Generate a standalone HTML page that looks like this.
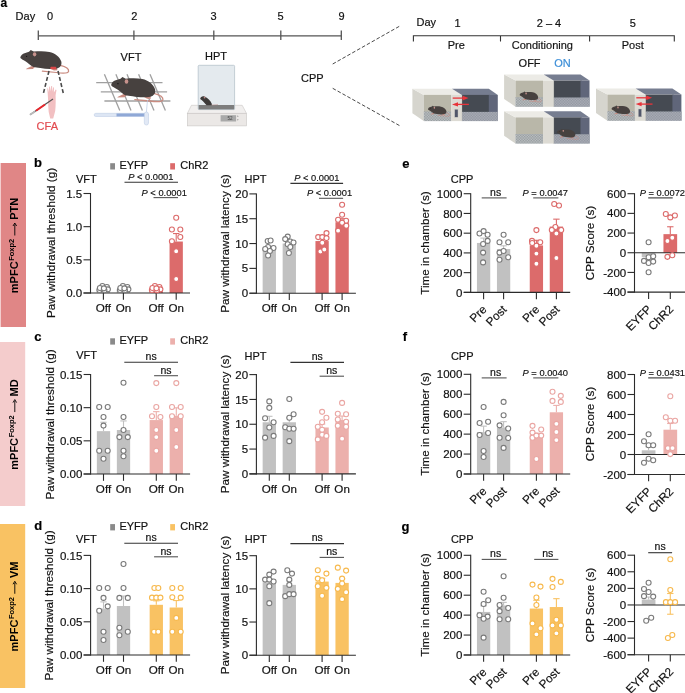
<!DOCTYPE html><html><head><meta charset="utf-8"><style>html,body{margin:0;padding:0;background:#fff;overflow:hidden;}svg{display:block;font-family:"Liberation Sans", sans-serif;will-change:transform;}</style></head><body>
<svg width="685" height="693" viewBox="0 0 685 693">
<rect width="685" height="693" fill="#fff"/>
<text x="0.6" y="6.6" font-size="12" text-anchor="start" font-weight="bold" fill="#000" stroke="#000" stroke-width="0.18">a</text>
<text x="15.6" y="19.9" font-size="11" text-anchor="start" font-weight="normal" fill="#111111" stroke="#111111" stroke-width="0.18">Day</text>
<line x1="38.3" y1="35.8" x2="341.3" y2="35.8" stroke="#555" stroke-width="1.3"/>
<line x1="38.3" y1="30.6" x2="38.3" y2="40" stroke="#555" stroke-width="1.3"/>
<line x1="133.9" y1="30.6" x2="133.9" y2="40" stroke="#555" stroke-width="1.3"/>
<line x1="213.8" y1="30.6" x2="213.8" y2="40" stroke="#555" stroke-width="1.3"/>
<line x1="280.8" y1="30.6" x2="280.8" y2="40" stroke="#555" stroke-width="1.3"/>
<line x1="341.3" y1="30.6" x2="341.3" y2="40" stroke="#555" stroke-width="1.3"/>
<text x="50" y="19.9" font-size="11" text-anchor="middle" font-weight="normal" fill="#111111" stroke="#111111" stroke-width="0.18">0</text>
<text x="134.2" y="19.9" font-size="11" text-anchor="middle" font-weight="normal" fill="#111111" stroke="#111111" stroke-width="0.18">2</text>
<text x="213.6" y="19.9" font-size="11" text-anchor="middle" font-weight="normal" fill="#111111" stroke="#111111" stroke-width="0.18">3</text>
<text x="280.5" y="19.9" font-size="11" text-anchor="middle" font-weight="normal" fill="#111111" stroke="#111111" stroke-width="0.18">5</text>
<text x="341.6" y="19.9" font-size="11" text-anchor="middle" font-weight="normal" fill="#111111" stroke="#111111" stroke-width="0.18">9</text>
<text x="131" y="61" font-size="11" text-anchor="middle" font-weight="normal" fill="#111111" stroke="#111111" stroke-width="0.18">VFT</text>
<text x="216" y="60.3" font-size="11" text-anchor="middle" font-weight="normal" fill="#111111" stroke="#111111" stroke-width="0.18">HPT</text>
<text x="312.3" y="82" font-size="11" text-anchor="middle" font-weight="normal" fill="#111111" stroke="#111111" stroke-width="0.18">CPP</text>
<line x1="332.7" y1="64" x2="399.7" y2="26.1" stroke="#4a4a4a" stroke-width="1" stroke-dasharray="3.6 2"/>
<line x1="332.7" y1="88.3" x2="399.7" y2="125.7" stroke="#4a4a4a" stroke-width="1" stroke-dasharray="3.6 2"/>
<g transform="translate(20.4 56.9) scale(1 1)">
<path d="M39.8 8.5 C45 9.8 48.6 12 48.2 14.4 C47.6 16.6 43 16.6 36 15.6 L22 14.3" fill="none" stroke="#c98b80" stroke-width="1.25" stroke-linecap="round"/>
<path d="M11.5 9 L6.2 11.6 L5.6 12.4 L12.5 12 L14.5 10 Z" fill="#c98b80"/>
<path d="M29 11 L33.5 13.6 L37 13.4 L36.5 10.6 Z" fill="#c98b80"/>
<path d="M0 0 C0.8 -2 2.2 -3 3.4 -3.5 L8.6 -5.2 L10.4 -6.8 L12.2 -6.0 L13.5 -5.3 C18 -5.8 24 -6.0 29 -5.0 C34.5 -3.8 39.5 0 40.9 4.6 C41.6 8 40 10.6 36.6 11.6 C31 12.6 25 12.2 20 11.2 C17 10.8 15 10.6 13 10.2 C10 8.4 7.6 6 5.4 4.6 C3.2 3.4 1 2.4 0 1.2 Z" fill="#47413f"/>
<ellipse cx="14.2" cy="-2.6" rx="1.7" ry="2.1" fill="#c7928c"/>
<circle cx="6.2" cy="-0.6" r="0.65" fill="#111"/>
</g>
<path d="M49 71 L43 95" stroke="#4a4a4a" stroke-width="1.6" stroke-dasharray="4 2.2"/>
<path d="M58 71 L63.5 94" stroke="#4a4a4a" stroke-width="1.6" stroke-dasharray="4 2.2"/>
<rect x="50.3" y="66.8" width="6" height="2.4" rx="1" fill="#d94848"/>
<path d="M50.2 118.6 L48.7 112 C48.3 108 48.1 104 48.1 100 L47.7 93.5 L47.2 88.5 L48 88.2 L48.7 92.2 L49.1 86.8 L50 86.6 L50.4 91.6 L51.2 86 L52.1 86 L52.3 91.6 L53.2 87.2 L54 87.4 L53.9 92.6 L55.7 89.6 L56.5 90.1 L55.6 95.2 C55.8 100 55.8 106 55.2 111 L53.2 118.6 Z" fill="#f2c0c2"/>
<line x1="30" y1="114.8" x2="53" y2="99" stroke="#555" stroke-width="1.2"/>
<line x1="36" y1="110.7" x2="45" y2="104.5" stroke="#e8262c" stroke-width="2"/>
<line x1="30" y1="114.8" x2="35" y2="111.4" stroke="#bbb" stroke-width="1.8"/>
<text x="47.3" y="129.9" font-size="11" text-anchor="middle" font-weight="normal" fill="#e24a4f" stroke="#e24a4f" stroke-width="0.18">CFA</text>
<line x1="96.2" y1="82.6" x2="162.5" y2="82.6" stroke="#a0a0a0" stroke-width="1.3"/>
<line x1="100.8" y1="91.8" x2="167.1" y2="91.8" stroke="#a0a0a0" stroke-width="1.3"/>
<line x1="104.4" y1="101" x2="170.4" y2="101" stroke="#a0a0a0" stroke-width="1.3"/>
<line x1="104.4" y1="74.2" x2="119.8" y2="110.6" stroke="#a0a0a0" stroke-width="1.3"/>
<line x1="115.9" y1="74.2" x2="131" y2="110.6" stroke="#a0a0a0" stroke-width="1.3"/>
<line x1="127" y1="74.2" x2="142.4" y2="110.6" stroke="#a0a0a0" stroke-width="1.3"/>
<line x1="138.6" y1="74.2" x2="154" y2="110.6" stroke="#a0a0a0" stroke-width="1.3"/>
<line x1="150" y1="74.2" x2="165.4" y2="110.6" stroke="#a0a0a0" stroke-width="1.3"/>
<g transform="translate(111.3 84.3) scale(1.07 1.07)">
<path d="M39.8 8.5 C45 9.8 48.6 12 48.2 14.4 C47.6 16.6 43 16.6 36 15.6 L22 14.3" fill="none" stroke="#c98b80" stroke-width="1.25" stroke-linecap="round"/>
<path d="M11.5 9 L6.2 11.6 L5.6 12.4 L12.5 12 L14.5 10 Z" fill="#c98b80"/>
<path d="M29 11 L33.5 13.6 L37 13.4 L36.5 10.6 Z" fill="#c98b80"/>
<path d="M0 0 C0.8 -2 2.2 -3 3.4 -3.5 L8.6 -5.2 L10.4 -6.8 L12.2 -6.0 L13.5 -5.3 C18 -5.8 24 -6.0 29 -5.0 C34.5 -3.8 39.5 0 40.9 4.6 C41.6 8 40 10.6 36.6 11.6 C31 12.6 25 12.2 20 11.2 C17 10.8 15 10.6 13 10.2 C10 8.4 7.6 6 5.4 4.6 C3.2 3.4 1 2.4 0 1.2 Z" fill="#47413f"/>
<ellipse cx="14.2" cy="-2.6" rx="1.7" ry="2.1" fill="#c7928c"/>
<circle cx="6.2" cy="-0.6" r="0.65" fill="#111"/>
</g>
<rect x="94.2" y="113.3" width="54" height="3.2" rx="1.6" fill="#dde6f4" stroke="#b9c8e3" stroke-width="0.5"/>
<rect x="116.5" y="113.5" width="28.5" height="2.9" fill="#8fa8d6"/>
<rect x="144.3" y="112" width="4.2" height="13" rx="2" fill="#e2e9f5" stroke="#b9c8e3" stroke-width="0.5"/>
<line x1="146.4" y1="112" x2="147.5" y2="100" stroke="#b9c8e3" stroke-width="0.7"/>
<polygon points="191.4,105.3 242.2,105.3 246.5,113.4 187.4,113.4" fill="#f1efee" stroke="#c9c6c4" stroke-width="0.6"/>
<rect x="187.4" y="113.4" width="59.1" height="12.5" fill="#ebe8e6" stroke="#c9c6c4" stroke-width="0.6"/>
<rect x="220.6" y="115.2" width="15.5" height="6.3" fill="#a9a9a9"/>
<text x="232.5" y="120.3" font-size="4.6" text-anchor="end" font-weight="normal" fill="#444">52</text>
<rect x="198.2" y="65.3" width="36.4" height="44.3" fill="#e4eaee" stroke="#b6c3cc" stroke-width="0.8" rx="1"/>
<rect x="198.6" y="105" width="35.6" height="4.4" fill="#7d7d7d"/>
<path d="M200.2 98.9 C200.6 96.9 202.4 95.6 204.5 96.5 C207.5 97.9 210.6 100.5 211.9 104 L211.7 105.2 L206.6 105.2 C204.6 103.4 203.1 101.2 201.6 100.1 Z" fill="#3d3a39"/>
<ellipse cx="204.6" cy="97.4" rx="0.9" ry="1" fill="#b98a86"/>
<path d="M211.5 105 L218 104.6" stroke="#b98a86" stroke-width="0.5"/>
<path d="M237 116.6 L238.6 116.6 L237.8 115.4 Z M237 119.4 L238.6 119.4 L237.8 120.6 Z" fill="#666"/>
<text x="416.5" y="26.3" font-size="11" text-anchor="start" font-weight="normal" fill="#111111" stroke="#111111" stroke-width="0.18">Day</text>
<text x="457.5" y="27" font-size="11" text-anchor="middle" font-weight="normal" fill="#111111" stroke="#111111" stroke-width="0.18">1</text>
<text x="549" y="27" font-size="11" text-anchor="middle" font-weight="normal" fill="#111111" stroke="#111111" stroke-width="0.18">2 – 4</text>
<text x="632.7" y="27" font-size="11" text-anchor="middle" font-weight="normal" fill="#111111" stroke="#111111" stroke-width="0.18">5</text>
<path d="M413.4 41.5 L413.4 35.7 L674.3 35.7 L674.3 41.5 M500.5 35.7 L500.5 41.5 M589.6 35.7 L589.6 41.5" fill="none" stroke="#333" stroke-width="1.1"/>
<text x="456.3" y="49" font-size="11" text-anchor="middle" font-weight="normal" fill="#111111" stroke="#111111" stroke-width="0.18">Pre</text>
<text x="542.4" y="49" font-size="11" text-anchor="middle" font-weight="normal" fill="#111111" stroke="#111111" stroke-width="0.18">Conditioning</text>
<text x="632.7" y="49" font-size="11" text-anchor="middle" font-weight="normal" fill="#111111" stroke="#111111" stroke-width="0.18">Post</text>
<text x="529.6" y="67" font-size="11" text-anchor="middle" font-weight="normal" fill="#111111" stroke="#111111" stroke-width="0.18">OFF</text>
<text x="562.4" y="67" font-size="11" text-anchor="middle" font-weight="normal" fill="#3d8fd8" stroke="#3d8fd8" stroke-width="0.18">ON</text>
<defs><pattern id="chk" width="1.6" height="1.6" patternUnits="userSpaceOnUse"><rect width="0.8" height="0.8" fill="#eef0f2"/><rect x="0.8" y="0.8" width="0.8" height="0.8" fill="#eef0f2"/></pattern></defs>
<polygon points="412.4,88.7 423.8,94.9 423.8,121.1 412.4,113.2" fill="#d6d5ce"/>
<polygon points="412.4,88.7 452,88.7 461.9,94.9 423.8,94.9" fill="#ecebe6"/>
<polygon points="452,88.7 488.8,88.7 497.8,94.9 461.9,94.9" fill="#767d90"/>
<rect x="423.8" y="94.9" width="27.5" height="17.5" fill="#b9b7a9"/>
<rect x="461.9" y="94.9" width="28" height="17.5" fill="#454a52"/>
<polygon points="488.8,94.9 497.8,94.9 497.8,121.1 488.8,112.7" fill="#60667a"/>
<rect x="423.8" y="111.5" width="27.6" height="9.6" fill="#8f9598"/>
<rect x="423.8" y="111.5" width="27.6" height="9.6" fill="url(#chk)" opacity="0.55"/>
<rect x="461.9" y="111.9" width="35.9" height="9.2" fill="#8d939e"/>
<rect x="461.9" y="111.9" width="35.9" height="9.2" fill="url(#chk)" opacity="0.55"/>
<polygon points="461.9,111.9 497.8,111.9 497.8,121.1 461.9,121.1" fill="#8b909c" opacity="0.35"/>
<rect x="451.3" y="94.9" width="10.6" height="26.2" fill="#dddbd4"/>
<line x1="461.9" y1="94.9" x2="461.9" y2="121.1" stroke="#b9b8b0" stroke-width="0.4"/>
<rect x="454.7" y="109.3" width="3.3" height="7.9" fill="#50566a" stroke="#c9c8c2" stroke-width="0.4"/>
<path d="M452.7 98.1 L463.4 98.1" stroke="#e8333a" stroke-width="1.3"/>
<polygon points="462.6,95.8 468.5,98.1 462.6,100.4" fill="#e8333a"/>
<path d="M457.4 104.4 L468.9 104.4" stroke="#e8333a" stroke-width="1.3"/>
<polygon points="458,102.2 452,104.4 458,106.6" fill="#e8333a"/>
<g transform="translate(428 108.9) scale(0.45 0.45)">
<path d="M39.8 8.5 C45 9.8 48.6 12 48.2 14.4 C47.6 16.6 43 16.6 36 15.6 L22 14.3" fill="none" stroke="#c98b80" stroke-width="1.25" stroke-linecap="round"/>
<path d="M11.5 9 L6.2 11.6 L5.6 12.4 L12.5 12 L14.5 10 Z" fill="#c98b80"/>
<path d="M29 11 L33.5 13.6 L37 13.4 L36.5 10.6 Z" fill="#c98b80"/>
<path d="M0 0 C0.8 -2 2.2 -3 3.4 -3.5 L8.6 -5.2 L10.4 -6.8 L12.2 -6.0 L13.5 -5.3 C18 -5.8 24 -6.0 29 -5.0 C34.5 -3.8 39.5 0 40.9 4.6 C41.6 8 40 10.6 36.6 11.6 C31 12.6 25 12.2 20 11.2 C17 10.8 15 10.6 13 10.2 C10 8.4 7.6 6 5.4 4.6 C3.2 3.4 1 2.4 0 1.2 Z" fill="#47413f"/>
<ellipse cx="14.2" cy="-2.6" rx="1.7" ry="2.1" fill="#c7928c"/>
<circle cx="6.2" cy="-0.6" r="0.65" fill="#111"/>
</g>
<polygon points="504.1,74.4 515.5,80.6 515.5,106.8 504.1,98.9" fill="#d6d5ce"/>
<polygon points="504.1,74.4 543.7,74.4 553.6,80.6 515.5,80.6" fill="#ecebe6"/>
<polygon points="543.7,74.4 580.5,74.4 589.5,80.6 553.6,80.6" fill="#767d90"/>
<rect x="515.5" y="80.6" width="27.5" height="17.5" fill="#b9b7a9"/>
<rect x="553.6" y="80.6" width="28" height="17.5" fill="#454a52"/>
<polygon points="580.5,80.6 589.5,80.6 589.5,106.8 580.5,98.4" fill="#60667a"/>
<rect x="515.5" y="97.2" width="27.6" height="9.6" fill="#8f9598"/>
<rect x="515.5" y="97.2" width="27.6" height="9.6" fill="url(#chk)" opacity="0.55"/>
<rect x="553.6" y="97.6" width="35.9" height="9.2" fill="#8d939e"/>
<rect x="553.6" y="97.6" width="35.9" height="9.2" fill="url(#chk)" opacity="0.55"/>
<polygon points="553.6,97.6 589.5,97.6 589.5,106.8 553.6,106.8" fill="#8b909c" opacity="0.35"/>
<rect x="543" y="80.6" width="10.6" height="26.2" fill="#dddbd4"/>
<line x1="553.6" y1="80.6" x2="553.6" y2="106.8" stroke="#b9b8b0" stroke-width="0.4"/>
<g transform="translate(519.7 94.6) scale(0.45 0.45)">
<path d="M39.8 8.5 C45 9.8 48.6 12 48.2 14.4 C47.6 16.6 43 16.6 36 15.6 L22 14.3" fill="none" stroke="#c98b80" stroke-width="1.25" stroke-linecap="round"/>
<path d="M11.5 9 L6.2 11.6 L5.6 12.4 L12.5 12 L14.5 10 Z" fill="#c98b80"/>
<path d="M29 11 L33.5 13.6 L37 13.4 L36.5 10.6 Z" fill="#c98b80"/>
<path d="M0 0 C0.8 -2 2.2 -3 3.4 -3.5 L8.6 -5.2 L10.4 -6.8 L12.2 -6.0 L13.5 -5.3 C18 -5.8 24 -6.0 29 -5.0 C34.5 -3.8 39.5 0 40.9 4.6 C41.6 8 40 10.6 36.6 11.6 C31 12.6 25 12.2 20 11.2 C17 10.8 15 10.6 13 10.2 C10 8.4 7.6 6 5.4 4.6 C3.2 3.4 1 2.4 0 1.2 Z" fill="#47413f"/>
<ellipse cx="14.2" cy="-2.6" rx="1.7" ry="2.1" fill="#c7928c"/>
<circle cx="6.2" cy="-0.6" r="0.65" fill="#111"/>
</g>
<polygon points="504.1,111.2 515.5,117.4 515.5,143.6 504.1,135.7" fill="#d6d5ce"/>
<polygon points="504.1,111.2 543.7,111.2 553.6,117.4 515.5,117.4" fill="#ecebe6"/>
<polygon points="543.7,111.2 580.5,111.2 589.5,117.4 553.6,117.4" fill="#767d90"/>
<rect x="515.5" y="117.4" width="27.5" height="17.5" fill="#b9b7a9"/>
<rect x="553.6" y="117.4" width="28" height="17.5" fill="#454a52"/>
<polygon points="580.5,117.4 589.5,117.4 589.5,143.6 580.5,135.2" fill="#60667a"/>
<rect x="515.5" y="134" width="27.6" height="9.6" fill="#8f9598"/>
<rect x="515.5" y="134" width="27.6" height="9.6" fill="url(#chk)" opacity="0.55"/>
<rect x="553.6" y="134.4" width="35.9" height="9.2" fill="#8d939e"/>
<rect x="553.6" y="134.4" width="35.9" height="9.2" fill="url(#chk)" opacity="0.55"/>
<polygon points="553.6,134.4 589.5,134.4 589.5,143.6 553.6,143.6" fill="#8b909c" opacity="0.35"/>
<rect x="543" y="117.4" width="10.6" height="26.2" fill="#dddbd4"/>
<line x1="553.6" y1="117.4" x2="553.6" y2="143.6" stroke="#b9b8b0" stroke-width="0.4"/>
<g transform="translate(556.9 132) scale(0.45 0.45)">
<path d="M39.8 8.5 C45 9.8 48.6 12 48.2 14.4 C47.6 16.6 43 16.6 36 15.6 L22 14.3" fill="none" stroke="#c98b80" stroke-width="1.25" stroke-linecap="round"/>
<path d="M11.5 9 L6.2 11.6 L5.6 12.4 L12.5 12 L14.5 10 Z" fill="#c98b80"/>
<path d="M29 11 L33.5 13.6 L37 13.4 L36.5 10.6 Z" fill="#c98b80"/>
<path d="M0 0 C0.8 -2 2.2 -3 3.4 -3.5 L8.6 -5.2 L10.4 -6.8 L12.2 -6.0 L13.5 -5.3 C18 -5.8 24 -6.0 29 -5.0 C34.5 -3.8 39.5 0 40.9 4.6 C41.6 8 40 10.6 36.6 11.6 C31 12.6 25 12.2 20 11.2 C17 10.8 15 10.6 13 10.2 C10 8.4 7.6 6 5.4 4.6 C3.2 3.4 1 2.4 0 1.2 Z" fill="#47413f"/>
<ellipse cx="14.2" cy="-2.6" rx="1.7" ry="2.1" fill="#c7928c"/>
<circle cx="6.2" cy="-0.6" r="0.65" fill="#111"/>
</g>
<polygon points="596,88.4 607.4,94.6 607.4,120.8 596,112.9" fill="#d6d5ce"/>
<polygon points="596,88.4 635.6,88.4 645.5,94.6 607.4,94.6" fill="#ecebe6"/>
<polygon points="635.6,88.4 672.4,88.4 681.4,94.6 645.5,94.6" fill="#767d90"/>
<rect x="607.4" y="94.6" width="27.5" height="17.5" fill="#b9b7a9"/>
<rect x="645.5" y="94.6" width="28" height="17.5" fill="#454a52"/>
<polygon points="672.4,94.6 681.4,94.6 681.4,120.8 672.4,112.4" fill="#60667a"/>
<rect x="607.4" y="111.2" width="27.6" height="9.6" fill="#8f9598"/>
<rect x="607.4" y="111.2" width="27.6" height="9.6" fill="url(#chk)" opacity="0.55"/>
<rect x="645.5" y="111.6" width="35.9" height="9.2" fill="#8d939e"/>
<rect x="645.5" y="111.6" width="35.9" height="9.2" fill="url(#chk)" opacity="0.55"/>
<polygon points="645.5,111.6 681.4,111.6 681.4,120.8 645.5,120.8" fill="#8b909c" opacity="0.35"/>
<rect x="634.9" y="94.6" width="10.6" height="26.2" fill="#dddbd4"/>
<line x1="645.5" y1="94.6" x2="645.5" y2="120.8" stroke="#b9b8b0" stroke-width="0.4"/>
<rect x="638.3" y="109" width="3.3" height="7.9" fill="#50566a" stroke="#c9c8c2" stroke-width="0.4"/>
<path d="M636.3 97.8 L647 97.8" stroke="#e8333a" stroke-width="1.3"/>
<polygon points="646.2,95.5 652.1,97.8 646.2,100.1" fill="#e8333a"/>
<path d="M641 104.1 L652.5 104.1" stroke="#e8333a" stroke-width="1.3"/>
<polygon points="641.6,101.9 635.6,104.1 641.6,106.3" fill="#e8333a"/>
<g transform="translate(611.6 108.6) scale(0.45 0.45)">
<path d="M39.8 8.5 C45 9.8 48.6 12 48.2 14.4 C47.6 16.6 43 16.6 36 15.6 L22 14.3" fill="none" stroke="#c98b80" stroke-width="1.25" stroke-linecap="round"/>
<path d="M11.5 9 L6.2 11.6 L5.6 12.4 L12.5 12 L14.5 10 Z" fill="#c98b80"/>
<path d="M29 11 L33.5 13.6 L37 13.4 L36.5 10.6 Z" fill="#c98b80"/>
<path d="M0 0 C0.8 -2 2.2 -3 3.4 -3.5 L8.6 -5.2 L10.4 -6.8 L12.2 -6.0 L13.5 -5.3 C18 -5.8 24 -6.0 29 -5.0 C34.5 -3.8 39.5 0 40.9 4.6 C41.6 8 40 10.6 36.6 11.6 C31 12.6 25 12.2 20 11.2 C17 10.8 15 10.6 13 10.2 C10 8.4 7.6 6 5.4 4.6 C3.2 3.4 1 2.4 0 1.2 Z" fill="#47413f"/>
<ellipse cx="14.2" cy="-2.6" rx="1.7" ry="2.1" fill="#c7928c"/>
<circle cx="6.2" cy="-0.6" r="0.65" fill="#111"/>
</g>
<rect x="0.6" y="163" width="25.4" height="164" fill="#e08686"/>
<g transform="translate(18.4 245.5) rotate(-90)">
<text x="-47.69" y="0" font-size="11" font-weight="bold" fill="#000">mPFC</text>
<text x="-15.3" y="-4.1" font-size="7.5" font-weight="bold" fill="#000">Foxp2</text>
<line x1="9.99" y1="-3.6" x2="20.99" y2="-3.6" stroke="#000" stroke-width="0.9"/>
<path d="M19.49 -5.4 L22.49 -3.6 L19.49 -1.8" fill="none" stroke="#000" stroke-width="0.9"/>
<text x="25.69" y="0" font-size="11" font-weight="bold" fill="#000">PTN</text>
</g>
<text x="34.1" y="166.9" font-size="13" text-anchor="start" font-weight="bold" fill="#000" stroke="#000" stroke-width="0.18">b</text>
<rect x="110.2" y="163.2" width="4.8" height="6.3" fill="#8a8a8a"/>
<text x="119.4" y="169.2" font-size="11" text-anchor="start" font-weight="normal" fill="#111111" stroke="#111111" stroke-width="0.18">EYFP</text>
<rect x="170.2" y="163.2" width="4.8" height="6.3" fill="#dc6b6b"/>
<text x="180.3" y="169.2" font-size="11" text-anchor="start" font-weight="normal" fill="#111111" stroke="#111111" stroke-width="0.18">ChR2</text>
<text x="76" y="183" font-size="11" text-anchor="start" font-weight="normal" fill="#111111" stroke="#111111" stroke-width="0.18">VFT</text>
<text x="244.6" y="183" font-size="11" text-anchor="start" font-weight="normal" fill="#111111" stroke="#111111" stroke-width="0.18">HPT</text>
<rect x="96.75" y="289.68" width="13.3" height="3.32" fill="#c1c1c1"/>
<line x1="103.4" y1="289.68" x2="103.4" y2="289.02" stroke="#c1c1c1" stroke-width="1.1"/>
<line x1="100.2" y1="289.02" x2="106.6" y2="289.02" stroke="#c1c1c1" stroke-width="1.1"/>
<rect x="116.75" y="289.68" width="13.3" height="3.32" fill="#c1c1c1"/>
<line x1="123.4" y1="289.68" x2="123.4" y2="289.02" stroke="#c1c1c1" stroke-width="1.1"/>
<line x1="120.2" y1="289.02" x2="126.6" y2="289.02" stroke="#c1c1c1" stroke-width="1.1"/>
<rect x="149.55" y="289.68" width="13.3" height="3.32" fill="#dc6b6b"/>
<line x1="156.2" y1="289.68" x2="156.2" y2="289.02" stroke="#dc6b6b" stroke-width="1.1"/>
<line x1="153" y1="289.02" x2="159.4" y2="289.02" stroke="#dc6b6b" stroke-width="1.1"/>
<rect x="169.55" y="241.53" width="13.3" height="51.47" fill="#dc6b6b"/>
<line x1="176.2" y1="241.53" x2="176.2" y2="233.57" stroke="#dc6b6b" stroke-width="1.1"/>
<line x1="173" y1="233.57" x2="179.4" y2="233.57" stroke="#dc6b6b" stroke-width="1.1"/>
<line x1="90.5" y1="193" x2="90.5" y2="293.5" stroke="#2b2b2b" stroke-width="1.1"/>
<line x1="83.5" y1="293" x2="90.5" y2="293" stroke="#2b2b2b" stroke-width="1.1"/>
<text x="82.2" y="297.1" font-size="11.5" text-anchor="end" font-weight="normal" fill="#111111" stroke="#111111" stroke-width="0.18">0.0</text>
<line x1="83.5" y1="259.83" x2="90.5" y2="259.83" stroke="#2b2b2b" stroke-width="1.1"/>
<text x="82.2" y="263.93" font-size="11.5" text-anchor="end" font-weight="normal" fill="#111111" stroke="#111111" stroke-width="0.18">0.5</text>
<line x1="83.5" y1="226.67" x2="90.5" y2="226.67" stroke="#2b2b2b" stroke-width="1.1"/>
<text x="82.2" y="230.77" font-size="11.5" text-anchor="end" font-weight="normal" fill="#111111" stroke="#111111" stroke-width="0.18">1.0</text>
<line x1="83.5" y1="193.5" x2="90.5" y2="193.5" stroke="#2b2b2b" stroke-width="1.1"/>
<text x="82.2" y="197.6" font-size="11.5" text-anchor="end" font-weight="normal" fill="#111111" stroke="#111111" stroke-width="0.18">1.5</text>
<line x1="83.5" y1="293" x2="190" y2="293" stroke="#2b2b2b" stroke-width="1.1"/>
<line x1="103.4" y1="293" x2="103.4" y2="299.8" stroke="#2b2b2b" stroke-width="1.1"/>
<line x1="123.4" y1="293" x2="123.4" y2="299.8" stroke="#2b2b2b" stroke-width="1.1"/>
<line x1="156.2" y1="293" x2="156.2" y2="299.8" stroke="#2b2b2b" stroke-width="1.1"/>
<line x1="176.2" y1="293" x2="176.2" y2="299.8" stroke="#2b2b2b" stroke-width="1.1"/>
<circle cx="99.4" cy="290.01" r="2.5" fill="#ffffff" stroke="#7a7a7a" stroke-width="1.1"/>
<circle cx="102.4" cy="286.04" r="2.5" fill="#ffffff" stroke="#7a7a7a" stroke-width="1.1"/>
<circle cx="106.9" cy="287.03" r="2.5" fill="#ffffff" stroke="#7a7a7a" stroke-width="1.1"/>
<circle cx="107.9" cy="289.35" r="2.5" fill="#ffffff" stroke="#7a7a7a" stroke-width="1.1"/>
<circle cx="104.4" cy="290.35" r="2.5" fill="#ffffff" stroke="#7a7a7a" stroke-width="1.1"/>
<circle cx="99.9" cy="288.02" r="2.5" fill="#ffffff" stroke="#7a7a7a" stroke-width="1.1"/>
<circle cx="103.9" cy="288.36" r="2.5" fill="#ffffff" stroke="#7a7a7a" stroke-width="1.1"/>
<circle cx="119.9" cy="290.01" r="2.5" fill="#ffffff" stroke="#7a7a7a" stroke-width="1.1"/>
<circle cx="122.9" cy="286.04" r="2.5" fill="#ffffff" stroke="#7a7a7a" stroke-width="1.1"/>
<circle cx="127.4" cy="287.03" r="2.5" fill="#ffffff" stroke="#7a7a7a" stroke-width="1.1"/>
<circle cx="128.4" cy="289.35" r="2.5" fill="#ffffff" stroke="#7a7a7a" stroke-width="1.1"/>
<circle cx="124.9" cy="290.35" r="2.5" fill="#ffffff" stroke="#7a7a7a" stroke-width="1.1"/>
<circle cx="120.4" cy="288.02" r="2.5" fill="#ffffff" stroke="#7a7a7a" stroke-width="1.1"/>
<circle cx="124.4" cy="288.36" r="2.5" fill="#ffffff" stroke="#7a7a7a" stroke-width="1.1"/>
<circle cx="151.9" cy="290.01" r="2.5" fill="#ffffff" stroke="#dc6b6b" stroke-width="1.1"/>
<circle cx="154.9" cy="286.04" r="2.5" fill="#ffffff" stroke="#dc6b6b" stroke-width="1.1"/>
<circle cx="159.4" cy="287.03" r="2.5" fill="#ffffff" stroke="#dc6b6b" stroke-width="1.1"/>
<circle cx="160.4" cy="289.35" r="2.5" fill="#ffffff" stroke="#dc6b6b" stroke-width="1.1"/>
<circle cx="156.9" cy="290.35" r="2.5" fill="#ffffff" stroke="#dc6b6b" stroke-width="1.1"/>
<circle cx="152.4" cy="288.02" r="2.5" fill="#ffffff" stroke="#dc6b6b" stroke-width="1.1"/>
<circle cx="156.4" cy="288.36" r="2.5" fill="#ffffff" stroke="#dc6b6b" stroke-width="1.1"/>
<circle cx="176.2" cy="217.71" r="2.5" fill="#ffffff" stroke="#dc6b6b" stroke-width="1.1"/>
<circle cx="171.9" cy="229.45" r="2.5" fill="#ffffff" stroke="#dc6b6b" stroke-width="1.1"/>
<circle cx="180.3" cy="229.45" r="2.5" fill="#ffffff" stroke="#dc6b6b" stroke-width="1.1"/>
<circle cx="180.3" cy="236.95" r="2.5" fill="#ffffff" stroke="#dc6b6b" stroke-width="1.1"/>
<circle cx="171.9" cy="241.26" r="2.5" fill="#ffffff" stroke="#dc6b6b" stroke-width="1.1"/>
<circle cx="176.2" cy="251.21" r="2.5" fill="#ffffff" stroke="#dc6b6b" stroke-width="1.1"/>
<circle cx="176.2" cy="279.07" r="2.5" fill="#ffffff" stroke="#dc6b6b" stroke-width="1.1"/>
<text x="103.4" y="311.9" font-size="11.6" text-anchor="middle" font-weight="normal" fill="#111111" stroke="#111111" stroke-width="0.18">Off</text>
<text x="123.4" y="311.9" font-size="11.6" text-anchor="middle" font-weight="normal" fill="#111111" stroke="#111111" stroke-width="0.18">On</text>
<text x="156.2" y="311.9" font-size="11.6" text-anchor="middle" font-weight="normal" fill="#111111" stroke="#111111" stroke-width="0.18">Off</text>
<text x="176.2" y="311.9" font-size="11.6" text-anchor="middle" font-weight="normal" fill="#111111" stroke="#111111" stroke-width="0.18">On</text>
<line x1="124.5" y1="182.2" x2="178" y2="182.2" stroke="#333" stroke-width="1.1"/>
<text x="150.8" y="180.2" font-size="9.3" text-anchor="middle" fill="#111111" stroke="#111111" stroke-width="0.15"><tspan font-style="italic">P</tspan> &lt; 0.0001</text>
<line x1="153.5" y1="197.6" x2="178" y2="197.6" stroke="#555" stroke-width="1.1"/>
<text x="164.2" y="195.8" font-size="9.3" text-anchor="middle" fill="#111111" stroke="#111111" stroke-width="0.15"><tspan font-style="italic">P</tspan> &lt; 0.0001</text>
<text x="54.6" y="243" font-size="11.7" text-anchor="middle" font-weight="normal" fill="#111111" stroke="#111111" stroke-width="0.18" transform="rotate(-90 54.6 243)">Paw withdrawal threshold (g)</text>
<rect x="262.65" y="249.01" width="13.3" height="44.19" fill="#c1c1c1"/>
<line x1="269.3" y1="249.01" x2="269.3" y2="246.78" stroke="#c1c1c1" stroke-width="1.1"/>
<line x1="266.1" y1="246.78" x2="272.5" y2="246.78" stroke="#c1c1c1" stroke-width="1.1"/>
<rect x="282.65" y="243.55" width="13.3" height="49.65" fill="#c1c1c1"/>
<line x1="289.3" y1="243.55" x2="289.3" y2="241.32" stroke="#c1c1c1" stroke-width="1.1"/>
<line x1="286.1" y1="241.32" x2="292.5" y2="241.32" stroke="#c1c1c1" stroke-width="1.1"/>
<rect x="315.45" y="241.07" width="13.3" height="52.13" fill="#dc6b6b"/>
<line x1="322.1" y1="241.07" x2="322.1" y2="238.58" stroke="#dc6b6b" stroke-width="1.1"/>
<line x1="318.9" y1="238.58" x2="325.3" y2="238.58" stroke="#dc6b6b" stroke-width="1.1"/>
<rect x="335.45" y="222.2" width="13.3" height="71" fill="#dc6b6b"/>
<line x1="342.1" y1="222.2" x2="342.1" y2="218.72" stroke="#dc6b6b" stroke-width="1.1"/>
<line x1="338.9" y1="218.72" x2="345.3" y2="218.72" stroke="#dc6b6b" stroke-width="1.1"/>
<line x1="256.4" y1="193.4" x2="256.4" y2="293.7" stroke="#2b2b2b" stroke-width="1.1"/>
<line x1="249.4" y1="293.2" x2="256.4" y2="293.2" stroke="#2b2b2b" stroke-width="1.1"/>
<text x="248.1" y="297.3" font-size="11.5" text-anchor="end" font-weight="normal" fill="#111111" stroke="#111111" stroke-width="0.18">0</text>
<line x1="249.4" y1="268.38" x2="256.4" y2="268.38" stroke="#2b2b2b" stroke-width="1.1"/>
<text x="248.1" y="272.48" font-size="11.5" text-anchor="end" font-weight="normal" fill="#111111" stroke="#111111" stroke-width="0.18">5</text>
<line x1="249.4" y1="243.55" x2="256.4" y2="243.55" stroke="#2b2b2b" stroke-width="1.1"/>
<text x="248.1" y="247.65" font-size="11.5" text-anchor="end" font-weight="normal" fill="#111111" stroke="#111111" stroke-width="0.18">10</text>
<line x1="249.4" y1="218.72" x2="256.4" y2="218.72" stroke="#2b2b2b" stroke-width="1.1"/>
<text x="248.1" y="222.82" font-size="11.5" text-anchor="end" font-weight="normal" fill="#111111" stroke="#111111" stroke-width="0.18">15</text>
<line x1="249.4" y1="193.9" x2="256.4" y2="193.9" stroke="#2b2b2b" stroke-width="1.1"/>
<text x="248.1" y="198" font-size="11.5" text-anchor="end" font-weight="normal" fill="#111111" stroke="#111111" stroke-width="0.18">20</text>
<line x1="249.4" y1="293.2" x2="355.9" y2="293.2" stroke="#2b2b2b" stroke-width="1.1"/>
<line x1="269.3" y1="293.2" x2="269.3" y2="300" stroke="#2b2b2b" stroke-width="1.1"/>
<line x1="289.3" y1="293.2" x2="289.3" y2="300" stroke="#2b2b2b" stroke-width="1.1"/>
<line x1="322.1" y1="293.2" x2="322.1" y2="300" stroke="#2b2b2b" stroke-width="1.1"/>
<line x1="342.1" y1="293.2" x2="342.1" y2="300" stroke="#2b2b2b" stroke-width="1.1"/>
<circle cx="267.7" cy="241.07" r="2.5" fill="#ffffff" stroke="#7a7a7a" stroke-width="1.1"/>
<circle cx="270.6" cy="240.57" r="2.5" fill="#ffffff" stroke="#7a7a7a" stroke-width="1.1"/>
<circle cx="268.1" cy="247.03" r="2.5" fill="#ffffff" stroke="#7a7a7a" stroke-width="1.1"/>
<circle cx="265.2" cy="249.01" r="2.5" fill="#ffffff" stroke="#7a7a7a" stroke-width="1.1"/>
<circle cx="273.5" cy="248.02" r="2.5" fill="#ffffff" stroke="#7a7a7a" stroke-width="1.1"/>
<circle cx="269.9" cy="251" r="2.5" fill="#ffffff" stroke="#7a7a7a" stroke-width="1.1"/>
<circle cx="268.1" cy="255.47" r="2.5" fill="#ffffff" stroke="#7a7a7a" stroke-width="1.1"/>
<circle cx="287.7" cy="236.6" r="2.5" fill="#ffffff" stroke="#7a7a7a" stroke-width="1.1"/>
<circle cx="285.2" cy="239.08" r="2.5" fill="#ffffff" stroke="#7a7a7a" stroke-width="1.1"/>
<circle cx="290.3" cy="241.56" r="2.5" fill="#ffffff" stroke="#7a7a7a" stroke-width="1.1"/>
<circle cx="293.5" cy="242.56" r="2.5" fill="#ffffff" stroke="#7a7a7a" stroke-width="1.1"/>
<circle cx="287.7" cy="244.29" r="2.5" fill="#ffffff" stroke="#7a7a7a" stroke-width="1.1"/>
<circle cx="290.3" cy="247.03" r="2.5" fill="#ffffff" stroke="#7a7a7a" stroke-width="1.1"/>
<circle cx="288.9" cy="252.98" r="2.5" fill="#ffffff" stroke="#7a7a7a" stroke-width="1.1"/>
<circle cx="318.2" cy="237.1" r="2.5" fill="#ffffff" stroke="#dc6b6b" stroke-width="1.1"/>
<circle cx="322.3" cy="237.1" r="2.5" fill="#ffffff" stroke="#dc6b6b" stroke-width="1.1"/>
<circle cx="326.5" cy="233.12" r="2.5" fill="#ffffff" stroke="#dc6b6b" stroke-width="1.1"/>
<circle cx="326.5" cy="238.09" r="2.5" fill="#ffffff" stroke="#dc6b6b" stroke-width="1.1"/>
<circle cx="322.3" cy="242.81" r="2.5" fill="#ffffff" stroke="#dc6b6b" stroke-width="1.1"/>
<circle cx="320.4" cy="251.49" r="2.5" fill="#ffffff" stroke="#dc6b6b" stroke-width="1.1"/>
<circle cx="324.3" cy="249.51" r="2.5" fill="#ffffff" stroke="#dc6b6b" stroke-width="1.1"/>
<circle cx="342.1" cy="204.82" r="2.5" fill="#ffffff" stroke="#dc6b6b" stroke-width="1.1"/>
<circle cx="342.1" cy="214.75" r="2.5" fill="#ffffff" stroke="#dc6b6b" stroke-width="1.1"/>
<circle cx="338.1" cy="219.72" r="2.5" fill="#ffffff" stroke="#dc6b6b" stroke-width="1.1"/>
<circle cx="346.1" cy="220.71" r="2.5" fill="#ffffff" stroke="#dc6b6b" stroke-width="1.1"/>
<circle cx="342.1" cy="222.7" r="2.5" fill="#ffffff" stroke="#dc6b6b" stroke-width="1.1"/>
<circle cx="346.3" cy="225.68" r="2.5" fill="#ffffff" stroke="#dc6b6b" stroke-width="1.1"/>
<circle cx="338.1" cy="230.64" r="2.5" fill="#ffffff" stroke="#dc6b6b" stroke-width="1.1"/>
<text x="269.3" y="312.1" font-size="11.6" text-anchor="middle" font-weight="normal" fill="#111111" stroke="#111111" stroke-width="0.18">Off</text>
<text x="289.3" y="312.1" font-size="11.6" text-anchor="middle" font-weight="normal" fill="#111111" stroke="#111111" stroke-width="0.18">On</text>
<text x="322.1" y="312.1" font-size="11.6" text-anchor="middle" font-weight="normal" fill="#111111" stroke="#111111" stroke-width="0.18">Off</text>
<text x="342.1" y="312.1" font-size="11.6" text-anchor="middle" font-weight="normal" fill="#111111" stroke="#111111" stroke-width="0.18">On</text>
<line x1="290.4" y1="183.4" x2="343.1" y2="183.4" stroke="#333" stroke-width="1.1"/>
<text x="316.8" y="180.6" font-size="9.3" text-anchor="middle" fill="#111111" stroke="#111111" stroke-width="0.15"><tspan font-style="italic">P</tspan> &lt; 0.0001</text>
<line x1="319" y1="198.3" x2="343.1" y2="198.3" stroke="#555" stroke-width="1.1"/>
<text x="329.5" y="195.6" font-size="9.3" text-anchor="middle" fill="#111111" stroke="#111111" stroke-width="0.15"><tspan font-style="italic">P</tspan> &lt; 0.0001</text>
<text x="229.2" y="243.5" font-size="11.7" text-anchor="middle" font-weight="normal" fill="#111111" stroke="#111111" stroke-width="0.18" transform="rotate(-90 229.2 243.5)">Paw withdrawal latency (s)</text>
<text x="402.3" y="167.9" font-size="13" text-anchor="start" font-weight="bold" fill="#000" stroke="#000" stroke-width="0.18">e</text>
<text x="462" y="183.1" font-size="11" text-anchor="middle" font-weight="normal" fill="#111111" stroke="#111111" stroke-width="0.18">CPP</text>
<rect x="476.95" y="242.95" width="13.3" height="49.45" fill="#c1c1c1"/>
<line x1="483.6" y1="242.95" x2="483.6" y2="238.11" stroke="#c1c1c1" stroke-width="1.1"/>
<line x1="480.4" y1="238.11" x2="486.8" y2="238.11" stroke="#c1c1c1" stroke-width="1.1"/>
<rect x="496.95" y="249.07" width="13.3" height="43.33" fill="#c1c1c1"/>
<line x1="503.6" y1="249.07" x2="503.6" y2="245.81" stroke="#c1c1c1" stroke-width="1.1"/>
<line x1="500.4" y1="245.81" x2="506.8" y2="245.81" stroke="#c1c1c1" stroke-width="1.1"/>
<rect x="529.75" y="245.42" width="13.3" height="46.98" fill="#dc6b6b"/>
<line x1="536.4" y1="245.42" x2="536.4" y2="240.29" stroke="#dc6b6b" stroke-width="1.1"/>
<line x1="533.2" y1="240.29" x2="539.6" y2="240.29" stroke="#dc6b6b" stroke-width="1.1"/>
<rect x="549.75" y="226.57" width="13.3" height="65.83" fill="#dc6b6b"/>
<line x1="556.4" y1="226.57" x2="556.4" y2="219.16" stroke="#dc6b6b" stroke-width="1.1"/>
<line x1="553.2" y1="219.16" x2="559.6" y2="219.16" stroke="#dc6b6b" stroke-width="1.1"/>
<line x1="470.7" y1="193.2" x2="470.7" y2="292.9" stroke="#2b2b2b" stroke-width="1.1"/>
<line x1="463.7" y1="292.4" x2="470.7" y2="292.4" stroke="#2b2b2b" stroke-width="1.1"/>
<text x="462.4" y="296.5" font-size="11.5" text-anchor="end" font-weight="normal" fill="#111111" stroke="#111111" stroke-width="0.18">0</text>
<line x1="463.7" y1="272.66" x2="470.7" y2="272.66" stroke="#2b2b2b" stroke-width="1.1"/>
<text x="462.4" y="276.76" font-size="11.5" text-anchor="end" font-weight="normal" fill="#111111" stroke="#111111" stroke-width="0.18">200</text>
<line x1="463.7" y1="252.92" x2="470.7" y2="252.92" stroke="#2b2b2b" stroke-width="1.1"/>
<text x="462.4" y="257.02" font-size="11.5" text-anchor="end" font-weight="normal" fill="#111111" stroke="#111111" stroke-width="0.18">400</text>
<line x1="463.7" y1="233.18" x2="470.7" y2="233.18" stroke="#2b2b2b" stroke-width="1.1"/>
<text x="462.4" y="237.28" font-size="11.5" text-anchor="end" font-weight="normal" fill="#111111" stroke="#111111" stroke-width="0.18">600</text>
<line x1="463.7" y1="213.44" x2="470.7" y2="213.44" stroke="#2b2b2b" stroke-width="1.1"/>
<text x="462.4" y="217.54" font-size="11.5" text-anchor="end" font-weight="normal" fill="#111111" stroke="#111111" stroke-width="0.18">800</text>
<line x1="463.7" y1="193.7" x2="470.7" y2="193.7" stroke="#2b2b2b" stroke-width="1.1"/>
<text x="462.4" y="197.8" font-size="11.5" text-anchor="end" font-weight="normal" fill="#111111" stroke="#111111" stroke-width="0.18">1000</text>
<line x1="463.7" y1="292.4" x2="570.2" y2="292.4" stroke="#2b2b2b" stroke-width="1.1"/>
<line x1="483.6" y1="292.4" x2="483.6" y2="299.2" stroke="#2b2b2b" stroke-width="1.1"/>
<line x1="503.6" y1="292.4" x2="503.6" y2="299.2" stroke="#2b2b2b" stroke-width="1.1"/>
<line x1="536.4" y1="292.4" x2="536.4" y2="299.2" stroke="#2b2b2b" stroke-width="1.1"/>
<line x1="556.4" y1="292.4" x2="556.4" y2="299.2" stroke="#2b2b2b" stroke-width="1.1"/>
<circle cx="479.5" cy="233.48" r="2.5" fill="#ffffff" stroke="#7a7a7a" stroke-width="1.1"/>
<circle cx="483.6" cy="231.11" r="2.5" fill="#ffffff" stroke="#7a7a7a" stroke-width="1.1"/>
<circle cx="487.6" cy="234.76" r="2.5" fill="#ffffff" stroke="#7a7a7a" stroke-width="1.1"/>
<circle cx="487.6" cy="240.88" r="2.5" fill="#ffffff" stroke="#7a7a7a" stroke-width="1.1"/>
<circle cx="483.1" cy="244.04" r="2.5" fill="#ffffff" stroke="#7a7a7a" stroke-width="1.1"/>
<circle cx="483.1" cy="252.62" r="2.5" fill="#ffffff" stroke="#7a7a7a" stroke-width="1.1"/>
<circle cx="483.1" cy="262.4" r="2.5" fill="#ffffff" stroke="#7a7a7a" stroke-width="1.1"/>
<circle cx="503.6" cy="234.76" r="2.5" fill="#ffffff" stroke="#7a7a7a" stroke-width="1.1"/>
<circle cx="499.5" cy="242.26" r="2.5" fill="#ffffff" stroke="#7a7a7a" stroke-width="1.1"/>
<circle cx="508.2" cy="242.26" r="2.5" fill="#ffffff" stroke="#7a7a7a" stroke-width="1.1"/>
<circle cx="499.5" cy="252.62" r="2.5" fill="#ffffff" stroke="#7a7a7a" stroke-width="1.1"/>
<circle cx="508.2" cy="257.26" r="2.5" fill="#ffffff" stroke="#7a7a7a" stroke-width="1.1"/>
<circle cx="503.6" cy="250.95" r="2.5" fill="#ffffff" stroke="#7a7a7a" stroke-width="1.1"/>
<circle cx="499.5" cy="259.73" r="2.5" fill="#ffffff" stroke="#7a7a7a" stroke-width="1.1"/>
<circle cx="536.4" cy="230.12" r="2.5" fill="#ffffff" stroke="#dc6b6b" stroke-width="1.1"/>
<circle cx="532" cy="240.88" r="2.5" fill="#ffffff" stroke="#dc6b6b" stroke-width="1.1"/>
<circle cx="540.2" cy="242.26" r="2.5" fill="#ffffff" stroke="#dc6b6b" stroke-width="1.1"/>
<circle cx="536.4" cy="245.81" r="2.5" fill="#ffffff" stroke="#dc6b6b" stroke-width="1.1"/>
<circle cx="536.4" cy="253.61" r="2.5" fill="#ffffff" stroke="#dc6b6b" stroke-width="1.1"/>
<circle cx="536.4" cy="263.78" r="2.5" fill="#ffffff" stroke="#dc6b6b" stroke-width="1.1"/>
<circle cx="532.2" cy="243.05" r="2.5" fill="#ffffff" stroke="#dc6b6b" stroke-width="1.1"/>
<circle cx="554.2" cy="204.06" r="2.5" fill="#ffffff" stroke="#dc6b6b" stroke-width="1.1"/>
<circle cx="559" cy="205.54" r="2.5" fill="#ffffff" stroke="#dc6b6b" stroke-width="1.1"/>
<circle cx="555.4" cy="227.06" r="2.5" fill="#ffffff" stroke="#dc6b6b" stroke-width="1.1"/>
<circle cx="551.8" cy="230.02" r="2.5" fill="#ffffff" stroke="#dc6b6b" stroke-width="1.1"/>
<circle cx="561.2" cy="230.02" r="2.5" fill="#ffffff" stroke="#dc6b6b" stroke-width="1.1"/>
<circle cx="556.4" cy="233.48" r="2.5" fill="#ffffff" stroke="#dc6b6b" stroke-width="1.1"/>
<circle cx="556.4" cy="257.95" r="2.5" fill="#ffffff" stroke="#dc6b6b" stroke-width="1.1"/>
<text x="487.4" y="310.2" font-size="11.7" text-anchor="end" font-weight="normal" fill="#111111" stroke="#111111" stroke-width="0.18" transform="rotate(-45 487.4 310.2)">Pre</text>
<text x="507.4" y="310.2" font-size="11.7" text-anchor="end" font-weight="normal" fill="#111111" stroke="#111111" stroke-width="0.18" transform="rotate(-45 507.4 310.2)">Post</text>
<text x="540.2" y="310.2" font-size="11.7" text-anchor="end" font-weight="normal" fill="#111111" stroke="#111111" stroke-width="0.18" transform="rotate(-45 540.2 310.2)">Pre</text>
<text x="560.2" y="310.2" font-size="11.7" text-anchor="end" font-weight="normal" fill="#111111" stroke="#111111" stroke-width="0.18" transform="rotate(-45 560.2 310.2)">Post</text>
<line x1="481.7" y1="197.9" x2="506.6" y2="197.9" stroke="#555" stroke-width="1.1"/>
<text x="495.6" y="195.5" font-size="10.5" text-anchor="middle" font-weight="normal" fill="#111111" stroke="#111111" stroke-width="0.18">ns</text>
<line x1="533.2" y1="197.9" x2="558.4" y2="197.9" stroke="#555" stroke-width="1.1"/>
<text x="545.2" y="196.2" font-size="9.3" text-anchor="middle" fill="#111111" stroke="#111111" stroke-width="0.15"><tspan font-style="italic">P</tspan> = 0.0047</text>
<text x="428.8" y="243" font-size="11.7" text-anchor="middle" font-weight="normal" fill="#111111" stroke="#111111" stroke-width="0.18" transform="rotate(-90 428.8 243)">Time in chamber (s)</text>
<rect x="641.75" y="252.74" width="13.7" height="4.43" fill="#c1c1c1"/>
<line x1="648.6" y1="257.17" x2="648.6" y2="260.12" stroke="#c1c1c1" stroke-width="1.1"/>
<line x1="645.4" y1="260.12" x2="651.8" y2="260.12" stroke="#c1c1c1" stroke-width="1.1"/>
<rect x="663.45" y="234.14" width="13.7" height="18.6" fill="#dc6b6b"/>
<line x1="670.3" y1="234.14" x2="670.3" y2="226.76" stroke="#dc6b6b" stroke-width="1.1"/>
<line x1="667.1" y1="226.76" x2="673.5" y2="226.76" stroke="#dc6b6b" stroke-width="1.1"/>
<line x1="634.5" y1="193.2" x2="634.5" y2="292.6" stroke="#2b2b2b" stroke-width="1.1"/>
<line x1="627.5" y1="292.1" x2="634.5" y2="292.1" stroke="#2b2b2b" stroke-width="1.1"/>
<text x="626.2" y="296.2" font-size="11.5" text-anchor="end" font-weight="normal" fill="#111111" stroke="#111111" stroke-width="0.18">-400</text>
<line x1="627.5" y1="272.42" x2="634.5" y2="272.42" stroke="#2b2b2b" stroke-width="1.1"/>
<text x="626.2" y="276.52" font-size="11.5" text-anchor="end" font-weight="normal" fill="#111111" stroke="#111111" stroke-width="0.18">-200</text>
<line x1="627.5" y1="252.74" x2="634.5" y2="252.74" stroke="#2b2b2b" stroke-width="1.1"/>
<text x="626.2" y="256.84" font-size="11.5" text-anchor="end" font-weight="normal" fill="#111111" stroke="#111111" stroke-width="0.18">0</text>
<line x1="627.5" y1="233.06" x2="634.5" y2="233.06" stroke="#2b2b2b" stroke-width="1.1"/>
<text x="626.2" y="237.16" font-size="11.5" text-anchor="end" font-weight="normal" fill="#111111" stroke="#111111" stroke-width="0.18">200</text>
<line x1="627.5" y1="213.38" x2="634.5" y2="213.38" stroke="#2b2b2b" stroke-width="1.1"/>
<text x="626.2" y="217.48" font-size="11.5" text-anchor="end" font-weight="normal" fill="#111111" stroke="#111111" stroke-width="0.18">400</text>
<line x1="627.5" y1="193.7" x2="634.5" y2="193.7" stroke="#2b2b2b" stroke-width="1.1"/>
<text x="626.2" y="197.8" font-size="11.5" text-anchor="end" font-weight="normal" fill="#111111" stroke="#111111" stroke-width="0.18">600</text>
<line x1="627.5" y1="292.1" x2="685" y2="292.1" stroke="#2b2b2b" stroke-width="1.1"/>
<line x1="634.5" y1="252.74" x2="685" y2="252.74" stroke="#2b2b2b" stroke-width="1.1"/>
<line x1="648.6" y1="292.1" x2="648.6" y2="298.9" stroke="#2b2b2b" stroke-width="1.1"/>
<line x1="670.3" y1="292.1" x2="670.3" y2="298.9" stroke="#2b2b2b" stroke-width="1.1"/>
<circle cx="648.6" cy="242.21" r="2.5" fill="#ffffff" stroke="#7a7a7a" stroke-width="1.1"/>
<circle cx="648.6" cy="257.27" r="2.5" fill="#ffffff" stroke="#7a7a7a" stroke-width="1.1"/>
<circle cx="653.2" cy="256.18" r="2.5" fill="#ffffff" stroke="#7a7a7a" stroke-width="1.1"/>
<circle cx="644" cy="260.91" r="2.5" fill="#ffffff" stroke="#7a7a7a" stroke-width="1.1"/>
<circle cx="648.6" cy="263.07" r="2.5" fill="#ffffff" stroke="#7a7a7a" stroke-width="1.1"/>
<circle cx="653.2" cy="261.6" r="2.5" fill="#ffffff" stroke="#7a7a7a" stroke-width="1.1"/>
<circle cx="648.6" cy="272.32" r="2.5" fill="#ffffff" stroke="#7a7a7a" stroke-width="1.1"/>
<circle cx="665.8" cy="213.97" r="2.5" fill="#ffffff" stroke="#dc6b6b" stroke-width="1.1"/>
<circle cx="670.3" cy="217.41" r="2.5" fill="#ffffff" stroke="#dc6b6b" stroke-width="1.1"/>
<circle cx="674.9" cy="215.45" r="2.5" fill="#ffffff" stroke="#dc6b6b" stroke-width="1.1"/>
<circle cx="672.3" cy="237.68" r="2.5" fill="#ffffff" stroke="#dc6b6b" stroke-width="1.1"/>
<circle cx="667.4" cy="241.03" r="2.5" fill="#ffffff" stroke="#dc6b6b" stroke-width="1.1"/>
<circle cx="667.4" cy="256.87" r="2.5" fill="#ffffff" stroke="#dc6b6b" stroke-width="1.1"/>
<circle cx="672.3" cy="255.2" r="2.5" fill="#ffffff" stroke="#dc6b6b" stroke-width="1.1"/>
<text x="652.4" y="309.9" font-size="11.7" text-anchor="end" font-weight="normal" fill="#111111" stroke="#111111" stroke-width="0.18" transform="rotate(-45 652.4 309.9)">EYFP</text>
<text x="674.1" y="309.9" font-size="11.7" text-anchor="end" font-weight="normal" fill="#111111" stroke="#111111" stroke-width="0.18" transform="rotate(-45 674.1 309.9)">ChR2</text>
<line x1="648.2" y1="197.9" x2="672.7" y2="197.9" stroke="#333" stroke-width="1.1"/>
<text x="662.4" y="196.2" font-size="9.3" text-anchor="middle" fill="#111111" stroke="#111111" stroke-width="0.15"><tspan font-style="italic">P</tspan> = 0.0072</text>
<text x="594.4" y="243" font-size="11.7" text-anchor="middle" font-weight="normal" fill="#111111" stroke="#111111" stroke-width="0.18" transform="rotate(-90 594.4 243)">CPP Score (s)</text>
<rect x="0" y="342" width="25.2" height="164" fill="#f4cccc"/>
<g transform="translate(18.4 424.5) rotate(-90)">
<text x="-45.24" y="0" font-size="11" font-weight="bold" fill="#000">mPFC</text>
<text x="-12.86" y="-4.1" font-size="7.5" font-weight="bold" fill="#000">Foxp2</text>
<line x1="12.43" y1="-3.6" x2="23.43" y2="-3.6" stroke="#000" stroke-width="0.9"/>
<path d="M21.93 -5.4 L24.93 -3.6 L21.93 -1.8" fill="none" stroke="#000" stroke-width="0.9"/>
<text x="28.13" y="0" font-size="11" font-weight="bold" fill="#000">MD</text>
</g>
<text x="34.3" y="341" font-size="13" text-anchor="start" font-weight="bold" fill="#000" stroke="#000" stroke-width="0.18">c</text>
<rect x="110.2" y="338.3" width="4.8" height="6.3" fill="#8a8a8a"/>
<text x="119.4" y="344.3" font-size="11" text-anchor="start" font-weight="normal" fill="#111111" stroke="#111111" stroke-width="0.18">EYFP</text>
<rect x="170.2" y="338.3" width="4.8" height="6.3" fill="#ecb0ac"/>
<text x="180.3" y="344.3" font-size="11" text-anchor="start" font-weight="normal" fill="#111111" stroke="#111111" stroke-width="0.18">ChR2</text>
<text x="76.2" y="359" font-size="11" text-anchor="start" font-weight="normal" fill="#111111" stroke="#111111" stroke-width="0.18">VFT</text>
<text x="244.6" y="360.2" font-size="11" text-anchor="start" font-weight="normal" fill="#111111" stroke="#111111" stroke-width="0.18">HPT</text>
<rect x="96.85" y="431.15" width="13.3" height="42.85" fill="#c1c1c1"/>
<line x1="103.5" y1="431.15" x2="103.5" y2="422.26" stroke="#c1c1c1" stroke-width="1.1"/>
<line x1="100.3" y1="422.26" x2="106.7" y2="422.26" stroke="#c1c1c1" stroke-width="1.1"/>
<rect x="116.85" y="430.02" width="13.3" height="43.98" fill="#c1c1c1"/>
<line x1="123.5" y1="430.02" x2="123.5" y2="420.93" stroke="#c1c1c1" stroke-width="1.1"/>
<line x1="120.3" y1="420.93" x2="126.7" y2="420.93" stroke="#c1c1c1" stroke-width="1.1"/>
<rect x="149.65" y="420.07" width="13.3" height="53.93" fill="#ecb0ac"/>
<line x1="156.3" y1="420.07" x2="156.3" y2="411.65" stroke="#ecb0ac" stroke-width="1.1"/>
<line x1="153.1" y1="411.65" x2="159.5" y2="411.65" stroke="#ecb0ac" stroke-width="1.1"/>
<rect x="169.65" y="415.76" width="13.3" height="58.24" fill="#ecb0ac"/>
<line x1="176.3" y1="415.76" x2="176.3" y2="407.8" stroke="#ecb0ac" stroke-width="1.1"/>
<line x1="173.1" y1="407.8" x2="179.5" y2="407.8" stroke="#ecb0ac" stroke-width="1.1"/>
<line x1="90.6" y1="374" x2="90.6" y2="474.5" stroke="#2b2b2b" stroke-width="1.1"/>
<line x1="83.6" y1="474" x2="90.6" y2="474" stroke="#2b2b2b" stroke-width="1.1"/>
<text x="82.3" y="478.1" font-size="11.5" text-anchor="end" font-weight="normal" fill="#111111" stroke="#111111" stroke-width="0.18">0.00</text>
<line x1="83.6" y1="440.83" x2="90.6" y2="440.83" stroke="#2b2b2b" stroke-width="1.1"/>
<text x="82.3" y="444.93" font-size="11.5" text-anchor="end" font-weight="normal" fill="#111111" stroke="#111111" stroke-width="0.18">0.05</text>
<line x1="83.6" y1="407.67" x2="90.6" y2="407.67" stroke="#2b2b2b" stroke-width="1.1"/>
<text x="82.3" y="411.77" font-size="11.5" text-anchor="end" font-weight="normal" fill="#111111" stroke="#111111" stroke-width="0.18">0.10</text>
<line x1="83.6" y1="374.5" x2="90.6" y2="374.5" stroke="#2b2b2b" stroke-width="1.1"/>
<text x="82.3" y="378.6" font-size="11.5" text-anchor="end" font-weight="normal" fill="#111111" stroke="#111111" stroke-width="0.18">0.15</text>
<line x1="83.6" y1="474" x2="190.1" y2="474" stroke="#2b2b2b" stroke-width="1.1"/>
<line x1="103.5" y1="474" x2="103.5" y2="480.8" stroke="#2b2b2b" stroke-width="1.1"/>
<line x1="123.5" y1="474" x2="123.5" y2="480.8" stroke="#2b2b2b" stroke-width="1.1"/>
<line x1="156.3" y1="474" x2="156.3" y2="480.8" stroke="#2b2b2b" stroke-width="1.1"/>
<line x1="176.3" y1="474" x2="176.3" y2="480.8" stroke="#2b2b2b" stroke-width="1.1"/>
<circle cx="99.2" cy="407" r="2.5" fill="#ffffff" stroke="#7a7a7a" stroke-width="1.1"/>
<circle cx="107.7" cy="407" r="2.5" fill="#ffffff" stroke="#7a7a7a" stroke-width="1.1"/>
<circle cx="103.5" cy="416.95" r="2.5" fill="#ffffff" stroke="#7a7a7a" stroke-width="1.1"/>
<circle cx="103.5" cy="425.58" r="2.5" fill="#ffffff" stroke="#7a7a7a" stroke-width="1.1"/>
<circle cx="99.2" cy="450.78" r="2.5" fill="#ffffff" stroke="#7a7a7a" stroke-width="1.1"/>
<circle cx="107.7" cy="450.78" r="2.5" fill="#ffffff" stroke="#7a7a7a" stroke-width="1.1"/>
<circle cx="103.5" cy="458.74" r="2.5" fill="#ffffff" stroke="#7a7a7a" stroke-width="1.1"/>
<circle cx="123.5" cy="382.73" r="2.5" fill="#ffffff" stroke="#7a7a7a" stroke-width="1.1"/>
<circle cx="123.5" cy="416.95" r="2.5" fill="#ffffff" stroke="#7a7a7a" stroke-width="1.1"/>
<circle cx="123.5" cy="430.02" r="2.5" fill="#ffffff" stroke="#7a7a7a" stroke-width="1.1"/>
<circle cx="119.4" cy="437.12" r="2.5" fill="#ffffff" stroke="#7a7a7a" stroke-width="1.1"/>
<circle cx="127.8" cy="437.12" r="2.5" fill="#ffffff" stroke="#7a7a7a" stroke-width="1.1"/>
<circle cx="123.5" cy="450.78" r="2.5" fill="#ffffff" stroke="#7a7a7a" stroke-width="1.1"/>
<circle cx="123.5" cy="456.22" r="2.5" fill="#ffffff" stroke="#7a7a7a" stroke-width="1.1"/>
<circle cx="156.3" cy="383.12" r="2.5" fill="#ffffff" stroke="#eaa6a3" stroke-width="1.1"/>
<circle cx="156.3" cy="407" r="2.5" fill="#ffffff" stroke="#eaa6a3" stroke-width="1.1"/>
<circle cx="152" cy="416.29" r="2.5" fill="#ffffff" stroke="#eaa6a3" stroke-width="1.1"/>
<circle cx="160.4" cy="416.95" r="2.5" fill="#ffffff" stroke="#eaa6a3" stroke-width="1.1"/>
<circle cx="156.3" cy="430.02" r="2.5" fill="#ffffff" stroke="#eaa6a3" stroke-width="1.1"/>
<circle cx="156.3" cy="437.12" r="2.5" fill="#ffffff" stroke="#eaa6a3" stroke-width="1.1"/>
<circle cx="156.3" cy="450.78" r="2.5" fill="#ffffff" stroke="#eaa6a3" stroke-width="1.1"/>
<circle cx="176.3" cy="383.12" r="2.5" fill="#ffffff" stroke="#eaa6a3" stroke-width="1.1"/>
<circle cx="172" cy="407" r="2.5" fill="#ffffff" stroke="#eaa6a3" stroke-width="1.1"/>
<circle cx="180.7" cy="407" r="2.5" fill="#ffffff" stroke="#eaa6a3" stroke-width="1.1"/>
<circle cx="172" cy="416.29" r="2.5" fill="#ffffff" stroke="#eaa6a3" stroke-width="1.1"/>
<circle cx="180.7" cy="416.29" r="2.5" fill="#ffffff" stroke="#eaa6a3" stroke-width="1.1"/>
<circle cx="176.3" cy="430.02" r="2.5" fill="#ffffff" stroke="#eaa6a3" stroke-width="1.1"/>
<circle cx="176.3" cy="447" r="2.5" fill="#ffffff" stroke="#eaa6a3" stroke-width="1.1"/>
<text x="103.5" y="492.9" font-size="11.6" text-anchor="middle" font-weight="normal" fill="#111111" stroke="#111111" stroke-width="0.18">Off</text>
<text x="123.5" y="492.9" font-size="11.6" text-anchor="middle" font-weight="normal" fill="#111111" stroke="#111111" stroke-width="0.18">On</text>
<text x="156.3" y="492.9" font-size="11.6" text-anchor="middle" font-weight="normal" fill="#111111" stroke="#111111" stroke-width="0.18">Off</text>
<text x="176.3" y="492.9" font-size="11.6" text-anchor="middle" font-weight="normal" fill="#111111" stroke="#111111" stroke-width="0.18">On</text>
<line x1="124.3" y1="362.2" x2="178" y2="362.2" stroke="#333" stroke-width="1.1"/>
<text x="151.15" y="360.1" font-size="10.5" text-anchor="middle" font-weight="normal" fill="#111111" stroke="#111111" stroke-width="0.18">ns</text>
<line x1="154.1" y1="375.7" x2="178" y2="375.7" stroke="#555" stroke-width="1.1"/>
<text x="166.05" y="373.6" font-size="10.5" text-anchor="middle" font-weight="normal" fill="#111111" stroke="#111111" stroke-width="0.18">ns</text>
<text x="54.3" y="424.5" font-size="11.7" text-anchor="middle" font-weight="normal" fill="#111111" stroke="#111111" stroke-width="0.18" transform="rotate(-90 54.3 424.5)">Paw withdrawal threshold (g)</text>
<rect x="262.65" y="422.26" width="13.3" height="51.64" fill="#c1c1c1"/>
<line x1="269.3" y1="422.26" x2="269.3" y2="416.31" stroke="#c1c1c1" stroke-width="1.1"/>
<line x1="266.1" y1="416.31" x2="272.5" y2="416.31" stroke="#c1c1c1" stroke-width="1.1"/>
<rect x="282.65" y="422.26" width="13.3" height="51.64" fill="#c1c1c1"/>
<line x1="289.3" y1="422.26" x2="289.3" y2="417.8" stroke="#c1c1c1" stroke-width="1.1"/>
<line x1="286.1" y1="417.8" x2="292.5" y2="417.8" stroke="#c1c1c1" stroke-width="1.1"/>
<rect x="315.45" y="427.48" width="13.3" height="46.42" fill="#ecb0ac"/>
<line x1="322.1" y1="427.48" x2="322.1" y2="424" stroke="#ecb0ac" stroke-width="1.1"/>
<line x1="318.9" y1="424" x2="325.3" y2="424" stroke="#ecb0ac" stroke-width="1.1"/>
<rect x="335.45" y="420.03" width="13.3" height="53.87" fill="#ecb0ac"/>
<line x1="342.1" y1="420.03" x2="342.1" y2="416.06" stroke="#ecb0ac" stroke-width="1.1"/>
<line x1="338.9" y1="416.06" x2="345.3" y2="416.06" stroke="#ecb0ac" stroke-width="1.1"/>
<line x1="256.4" y1="374.1" x2="256.4" y2="474.4" stroke="#2b2b2b" stroke-width="1.1"/>
<line x1="249.4" y1="473.9" x2="256.4" y2="473.9" stroke="#2b2b2b" stroke-width="1.1"/>
<text x="248.1" y="478" font-size="11.5" text-anchor="end" font-weight="normal" fill="#111111" stroke="#111111" stroke-width="0.18">0</text>
<line x1="249.4" y1="449.07" x2="256.4" y2="449.07" stroke="#2b2b2b" stroke-width="1.1"/>
<text x="248.1" y="453.18" font-size="11.5" text-anchor="end" font-weight="normal" fill="#111111" stroke="#111111" stroke-width="0.18">5</text>
<line x1="249.4" y1="424.25" x2="256.4" y2="424.25" stroke="#2b2b2b" stroke-width="1.1"/>
<text x="248.1" y="428.35" font-size="11.5" text-anchor="end" font-weight="normal" fill="#111111" stroke="#111111" stroke-width="0.18">10</text>
<line x1="249.4" y1="399.43" x2="256.4" y2="399.43" stroke="#2b2b2b" stroke-width="1.1"/>
<text x="248.1" y="403.53" font-size="11.5" text-anchor="end" font-weight="normal" fill="#111111" stroke="#111111" stroke-width="0.18">15</text>
<line x1="249.4" y1="374.6" x2="256.4" y2="374.6" stroke="#2b2b2b" stroke-width="1.1"/>
<text x="248.1" y="378.7" font-size="11.5" text-anchor="end" font-weight="normal" fill="#111111" stroke="#111111" stroke-width="0.18">20</text>
<line x1="249.4" y1="473.9" x2="355.9" y2="473.9" stroke="#2b2b2b" stroke-width="1.1"/>
<line x1="269.3" y1="473.9" x2="269.3" y2="480.7" stroke="#2b2b2b" stroke-width="1.1"/>
<line x1="289.3" y1="473.9" x2="289.3" y2="480.7" stroke="#2b2b2b" stroke-width="1.1"/>
<line x1="322.1" y1="473.9" x2="322.1" y2="480.7" stroke="#2b2b2b" stroke-width="1.1"/>
<line x1="342.1" y1="473.9" x2="342.1" y2="480.7" stroke="#2b2b2b" stroke-width="1.1"/>
<circle cx="269.3" cy="401.41" r="2.5" fill="#ffffff" stroke="#7a7a7a" stroke-width="1.1"/>
<circle cx="269.3" cy="407.87" r="2.5" fill="#ffffff" stroke="#7a7a7a" stroke-width="1.1"/>
<circle cx="265.1" cy="418.29" r="2.5" fill="#ffffff" stroke="#7a7a7a" stroke-width="1.1"/>
<circle cx="273.6" cy="422.26" r="2.5" fill="#ffffff" stroke="#7a7a7a" stroke-width="1.1"/>
<circle cx="269.3" cy="427.48" r="2.5" fill="#ffffff" stroke="#7a7a7a" stroke-width="1.1"/>
<circle cx="265.1" cy="437.66" r="2.5" fill="#ffffff" stroke="#7a7a7a" stroke-width="1.1"/>
<circle cx="273.6" cy="435.92" r="2.5" fill="#ffffff" stroke="#7a7a7a" stroke-width="1.1"/>
<circle cx="289.3" cy="398.93" r="2.5" fill="#ffffff" stroke="#7a7a7a" stroke-width="1.1"/>
<circle cx="293.6" cy="414.32" r="2.5" fill="#ffffff" stroke="#7a7a7a" stroke-width="1.1"/>
<circle cx="289.3" cy="417.8" r="2.5" fill="#ffffff" stroke="#7a7a7a" stroke-width="1.1"/>
<circle cx="285.2" cy="427.23" r="2.5" fill="#ffffff" stroke="#7a7a7a" stroke-width="1.1"/>
<circle cx="289.3" cy="428.72" r="2.5" fill="#ffffff" stroke="#7a7a7a" stroke-width="1.1"/>
<circle cx="293.6" cy="428.72" r="2.5" fill="#ffffff" stroke="#7a7a7a" stroke-width="1.1"/>
<circle cx="289.3" cy="441.13" r="2.5" fill="#ffffff" stroke="#7a7a7a" stroke-width="1.1"/>
<circle cx="322.1" cy="411.84" r="2.5" fill="#ffffff" stroke="#eaa6a3" stroke-width="1.1"/>
<circle cx="326.4" cy="417.8" r="2.5" fill="#ffffff" stroke="#eaa6a3" stroke-width="1.1"/>
<circle cx="322.1" cy="422.26" r="2.5" fill="#ffffff" stroke="#eaa6a3" stroke-width="1.1"/>
<circle cx="317.8" cy="426.73" r="2.5" fill="#ffffff" stroke="#eaa6a3" stroke-width="1.1"/>
<circle cx="322.1" cy="429.71" r="2.5" fill="#ffffff" stroke="#eaa6a3" stroke-width="1.1"/>
<circle cx="322.1" cy="434.68" r="2.5" fill="#ffffff" stroke="#eaa6a3" stroke-width="1.1"/>
<circle cx="326.4" cy="435.92" r="2.5" fill="#ffffff" stroke="#eaa6a3" stroke-width="1.1"/>
<circle cx="317.8" cy="439.39" r="2.5" fill="#ffffff" stroke="#eaa6a3" stroke-width="1.1"/>
<circle cx="342.1" cy="402.9" r="2.5" fill="#ffffff" stroke="#eaa6a3" stroke-width="1.1"/>
<circle cx="337.8" cy="413.82" r="2.5" fill="#ffffff" stroke="#eaa6a3" stroke-width="1.1"/>
<circle cx="346.1" cy="414.32" r="2.5" fill="#ffffff" stroke="#eaa6a3" stroke-width="1.1"/>
<circle cx="337.8" cy="419.48" r="2.5" fill="#ffffff" stroke="#eaa6a3" stroke-width="1.1"/>
<circle cx="346.1" cy="421.77" r="2.5" fill="#ffffff" stroke="#eaa6a3" stroke-width="1.1"/>
<circle cx="337.8" cy="425.74" r="2.5" fill="#ffffff" stroke="#eaa6a3" stroke-width="1.1"/>
<circle cx="346.1" cy="426.73" r="2.5" fill="#ffffff" stroke="#eaa6a3" stroke-width="1.1"/>
<circle cx="342.1" cy="438.65" r="2.5" fill="#ffffff" stroke="#eaa6a3" stroke-width="1.1"/>
<text x="269.3" y="492.8" font-size="11.6" text-anchor="middle" font-weight="normal" fill="#111111" stroke="#111111" stroke-width="0.18">Off</text>
<text x="289.3" y="492.8" font-size="11.6" text-anchor="middle" font-weight="normal" fill="#111111" stroke="#111111" stroke-width="0.18">On</text>
<text x="322.1" y="492.8" font-size="11.6" text-anchor="middle" font-weight="normal" fill="#111111" stroke="#111111" stroke-width="0.18">Off</text>
<text x="342.1" y="492.8" font-size="11.6" text-anchor="middle" font-weight="normal" fill="#111111" stroke="#111111" stroke-width="0.18">On</text>
<line x1="290.4" y1="362.4" x2="344" y2="362.4" stroke="#333" stroke-width="1.1"/>
<text x="317.2" y="360.3" font-size="10.5" text-anchor="middle" font-weight="normal" fill="#111111" stroke="#111111" stroke-width="0.18">ns</text>
<line x1="319.6" y1="376.2" x2="344" y2="376.2" stroke="#555" stroke-width="1.1"/>
<text x="331.8" y="374" font-size="10.5" text-anchor="middle" font-weight="normal" fill="#111111" stroke="#111111" stroke-width="0.18">ns</text>
<text x="229.2" y="424" font-size="11.7" text-anchor="middle" font-weight="normal" fill="#111111" stroke="#111111" stroke-width="0.18" transform="rotate(-90 229.2 424)">Paw withdrawal latency (s)</text>
<text x="402.8" y="340.8" font-size="13" text-anchor="start" font-weight="bold" fill="#000" stroke="#000" stroke-width="0.18">f</text>
<text x="462.2" y="359.6" font-size="11" text-anchor="middle" font-weight="normal" fill="#111111" stroke="#111111" stroke-width="0.18">CPP</text>
<rect x="476.95" y="432.13" width="13.3" height="41.87" fill="#c1c1c1"/>
<line x1="483.6" y1="432.13" x2="483.6" y2="426.14" stroke="#c1c1c1" stroke-width="1.1"/>
<line x1="480.4" y1="426.14" x2="486.8" y2="426.14" stroke="#c1c1c1" stroke-width="1.1"/>
<rect x="496.95" y="427.44" width="13.3" height="46.56" fill="#c1c1c1"/>
<line x1="503.6" y1="427.44" x2="503.6" y2="421.66" stroke="#c1c1c1" stroke-width="1.1"/>
<line x1="500.4" y1="421.66" x2="506.8" y2="421.66" stroke="#c1c1c1" stroke-width="1.1"/>
<rect x="529.75" y="434.62" width="13.3" height="39.38" fill="#ecb0ac"/>
<line x1="536.4" y1="434.62" x2="536.4" y2="433.22" stroke="#ecb0ac" stroke-width="1.1"/>
<line x1="533.2" y1="433.22" x2="539.6" y2="433.22" stroke="#ecb0ac" stroke-width="1.1"/>
<rect x="549.75" y="412.29" width="13.3" height="61.71" fill="#ecb0ac"/>
<line x1="556.4" y1="412.29" x2="556.4" y2="405.41" stroke="#ecb0ac" stroke-width="1.1"/>
<line x1="553.2" y1="405.41" x2="559.6" y2="405.41" stroke="#ecb0ac" stroke-width="1.1"/>
<line x1="470.7" y1="373.8" x2="470.7" y2="474.5" stroke="#2b2b2b" stroke-width="1.1"/>
<line x1="463.7" y1="474" x2="470.7" y2="474" stroke="#2b2b2b" stroke-width="1.1"/>
<text x="462.4" y="478.1" font-size="11.5" text-anchor="end" font-weight="normal" fill="#111111" stroke="#111111" stroke-width="0.18">0</text>
<line x1="463.7" y1="454.06" x2="470.7" y2="454.06" stroke="#2b2b2b" stroke-width="1.1"/>
<text x="462.4" y="458.16" font-size="11.5" text-anchor="end" font-weight="normal" fill="#111111" stroke="#111111" stroke-width="0.18">200</text>
<line x1="463.7" y1="434.12" x2="470.7" y2="434.12" stroke="#2b2b2b" stroke-width="1.1"/>
<text x="462.4" y="438.22" font-size="11.5" text-anchor="end" font-weight="normal" fill="#111111" stroke="#111111" stroke-width="0.18">400</text>
<line x1="463.7" y1="414.18" x2="470.7" y2="414.18" stroke="#2b2b2b" stroke-width="1.1"/>
<text x="462.4" y="418.28" font-size="11.5" text-anchor="end" font-weight="normal" fill="#111111" stroke="#111111" stroke-width="0.18">600</text>
<line x1="463.7" y1="394.24" x2="470.7" y2="394.24" stroke="#2b2b2b" stroke-width="1.1"/>
<text x="462.4" y="398.34" font-size="11.5" text-anchor="end" font-weight="normal" fill="#111111" stroke="#111111" stroke-width="0.18">800</text>
<line x1="463.7" y1="374.3" x2="470.7" y2="374.3" stroke="#2b2b2b" stroke-width="1.1"/>
<text x="462.4" y="378.4" font-size="11.5" text-anchor="end" font-weight="normal" fill="#111111" stroke="#111111" stroke-width="0.18">1000</text>
<line x1="463.7" y1="474" x2="570.2" y2="474" stroke="#2b2b2b" stroke-width="1.1"/>
<line x1="483.6" y1="474" x2="483.6" y2="480.8" stroke="#2b2b2b" stroke-width="1.1"/>
<line x1="503.6" y1="474" x2="503.6" y2="480.8" stroke="#2b2b2b" stroke-width="1.1"/>
<line x1="536.4" y1="474" x2="536.4" y2="480.8" stroke="#2b2b2b" stroke-width="1.1"/>
<line x1="556.4" y1="474" x2="556.4" y2="480.8" stroke="#2b2b2b" stroke-width="1.1"/>
<circle cx="483.6" cy="407" r="2.5" fill="#ffffff" stroke="#7a7a7a" stroke-width="1.1"/>
<circle cx="479.6" cy="423.05" r="2.5" fill="#ffffff" stroke="#7a7a7a" stroke-width="1.1"/>
<circle cx="488.1" cy="421.76" r="2.5" fill="#ffffff" stroke="#7a7a7a" stroke-width="1.1"/>
<circle cx="488.1" cy="433.02" r="2.5" fill="#ffffff" stroke="#7a7a7a" stroke-width="1.1"/>
<circle cx="479.6" cy="435.02" r="2.5" fill="#ffffff" stroke="#7a7a7a" stroke-width="1.1"/>
<circle cx="483.6" cy="450.97" r="2.5" fill="#ffffff" stroke="#7a7a7a" stroke-width="1.1"/>
<circle cx="483.6" cy="457.05" r="2.5" fill="#ffffff" stroke="#7a7a7a" stroke-width="1.1"/>
<circle cx="503.6" cy="401.92" r="2.5" fill="#ffffff" stroke="#7a7a7a" stroke-width="1.1"/>
<circle cx="503.6" cy="415.18" r="2.5" fill="#ffffff" stroke="#7a7a7a" stroke-width="1.1"/>
<circle cx="499.6" cy="425.35" r="2.5" fill="#ffffff" stroke="#7a7a7a" stroke-width="1.1"/>
<circle cx="508.2" cy="428.54" r="2.5" fill="#ffffff" stroke="#7a7a7a" stroke-width="1.1"/>
<circle cx="499.6" cy="437.71" r="2.5" fill="#ffffff" stroke="#7a7a7a" stroke-width="1.1"/>
<circle cx="508.2" cy="438.01" r="2.5" fill="#ffffff" stroke="#7a7a7a" stroke-width="1.1"/>
<circle cx="503.6" cy="447.88" r="2.5" fill="#ffffff" stroke="#7a7a7a" stroke-width="1.1"/>
<circle cx="532.5" cy="425.84" r="2.5" fill="#ffffff" stroke="#eaa6a3" stroke-width="1.1"/>
<circle cx="541.2" cy="429.53" r="2.5" fill="#ffffff" stroke="#eaa6a3" stroke-width="1.1"/>
<circle cx="532.5" cy="432.62" r="2.5" fill="#ffffff" stroke="#eaa6a3" stroke-width="1.1"/>
<circle cx="541.2" cy="435.62" r="2.5" fill="#ffffff" stroke="#eaa6a3" stroke-width="1.1"/>
<circle cx="532.5" cy="437.71" r="2.5" fill="#ffffff" stroke="#eaa6a3" stroke-width="1.1"/>
<circle cx="536.4" cy="435.62" r="2.5" fill="#ffffff" stroke="#eaa6a3" stroke-width="1.1"/>
<circle cx="536.4" cy="459.05" r="2.5" fill="#ffffff" stroke="#eaa6a3" stroke-width="1.1"/>
<circle cx="552.5" cy="391.75" r="2.5" fill="#ffffff" stroke="#eaa6a3" stroke-width="1.1"/>
<circle cx="560.8" cy="395.84" r="2.5" fill="#ffffff" stroke="#eaa6a3" stroke-width="1.1"/>
<circle cx="552.5" cy="400.92" r="2.5" fill="#ffffff" stroke="#eaa6a3" stroke-width="1.1"/>
<circle cx="560.8" cy="401.92" r="2.5" fill="#ffffff" stroke="#eaa6a3" stroke-width="1.1"/>
<circle cx="556.4" cy="423.85" r="2.5" fill="#ffffff" stroke="#eaa6a3" stroke-width="1.1"/>
<circle cx="556.4" cy="432.03" r="2.5" fill="#ffffff" stroke="#eaa6a3" stroke-width="1.1"/>
<circle cx="556.4" cy="440.1" r="2.5" fill="#ffffff" stroke="#eaa6a3" stroke-width="1.1"/>
<text x="487.4" y="491.8" font-size="11.7" text-anchor="end" font-weight="normal" fill="#111111" stroke="#111111" stroke-width="0.18" transform="rotate(-45 487.4 491.8)">Pre</text>
<text x="507.4" y="491.8" font-size="11.7" text-anchor="end" font-weight="normal" fill="#111111" stroke="#111111" stroke-width="0.18" transform="rotate(-45 507.4 491.8)">Post</text>
<text x="540.2" y="491.8" font-size="11.7" text-anchor="end" font-weight="normal" fill="#111111" stroke="#111111" stroke-width="0.18" transform="rotate(-45 540.2 491.8)">Pre</text>
<text x="560.2" y="491.8" font-size="11.7" text-anchor="end" font-weight="normal" fill="#111111" stroke="#111111" stroke-width="0.18" transform="rotate(-45 560.2 491.8)">Post</text>
<line x1="481.7" y1="377.9" x2="506.6" y2="377.9" stroke="#555" stroke-width="1.1"/>
<text x="495.6" y="375.5" font-size="10.5" text-anchor="middle" font-weight="normal" fill="#111111" stroke="#111111" stroke-width="0.18">ns</text>
<line x1="533.2" y1="377.9" x2="558.4" y2="377.9" stroke="#555" stroke-width="1.1"/>
<text x="545.2" y="376" font-size="9.3" text-anchor="middle" fill="#111111" stroke="#111111" stroke-width="0.15"><tspan font-style="italic">P</tspan> = 0.0040</text>
<text x="428.8" y="424" font-size="11.7" text-anchor="middle" font-weight="normal" fill="#111111" stroke="#111111" stroke-width="0.18" transform="rotate(-90 428.8 424)">Time in chamber (s)</text>
<rect x="641.75" y="450.3" width="13.7" height="4.2" fill="#c1c1c1"/>
<line x1="648.6" y1="450.3" x2="648.6" y2="446.8" stroke="#c1c1c1" stroke-width="1.1"/>
<line x1="645.4" y1="446.8" x2="651.8" y2="446.8" stroke="#c1c1c1" stroke-width="1.1"/>
<rect x="663.45" y="429.7" width="13.7" height="24.8" fill="#ecb0ac"/>
<line x1="670.3" y1="429.7" x2="670.3" y2="423.5" stroke="#ecb0ac" stroke-width="1.1"/>
<line x1="667.1" y1="423.5" x2="673.5" y2="423.5" stroke="#ecb0ac" stroke-width="1.1"/>
<line x1="634.5" y1="374" x2="634.5" y2="475" stroke="#2b2b2b" stroke-width="1.1"/>
<line x1="627.5" y1="474.5" x2="634.5" y2="474.5" stroke="#2b2b2b" stroke-width="1.1"/>
<text x="626.2" y="478.6" font-size="11.5" text-anchor="end" font-weight="normal" fill="#111111" stroke="#111111" stroke-width="0.18">-200</text>
<line x1="627.5" y1="454.5" x2="634.5" y2="454.5" stroke="#2b2b2b" stroke-width="1.1"/>
<text x="626.2" y="458.6" font-size="11.5" text-anchor="end" font-weight="normal" fill="#111111" stroke="#111111" stroke-width="0.18">0</text>
<line x1="627.5" y1="434.5" x2="634.5" y2="434.5" stroke="#2b2b2b" stroke-width="1.1"/>
<text x="626.2" y="438.6" font-size="11.5" text-anchor="end" font-weight="normal" fill="#111111" stroke="#111111" stroke-width="0.18">200</text>
<line x1="627.5" y1="414.5" x2="634.5" y2="414.5" stroke="#2b2b2b" stroke-width="1.1"/>
<text x="626.2" y="418.6" font-size="11.5" text-anchor="end" font-weight="normal" fill="#111111" stroke="#111111" stroke-width="0.18">400</text>
<line x1="627.5" y1="394.5" x2="634.5" y2="394.5" stroke="#2b2b2b" stroke-width="1.1"/>
<text x="626.2" y="398.6" font-size="11.5" text-anchor="end" font-weight="normal" fill="#111111" stroke="#111111" stroke-width="0.18">600</text>
<line x1="627.5" y1="374.5" x2="634.5" y2="374.5" stroke="#2b2b2b" stroke-width="1.1"/>
<text x="626.2" y="378.6" font-size="11.5" text-anchor="end" font-weight="normal" fill="#111111" stroke="#111111" stroke-width="0.18">800</text>
<line x1="627.5" y1="474.5" x2="685" y2="474.5" stroke="#2b2b2b" stroke-width="1.1"/>
<line x1="634.5" y1="454.5" x2="685" y2="454.5" stroke="#2b2b2b" stroke-width="1.1"/>
<line x1="648.6" y1="474.5" x2="648.6" y2="481.3" stroke="#2b2b2b" stroke-width="1.1"/>
<line x1="670.3" y1="474.5" x2="670.3" y2="481.3" stroke="#2b2b2b" stroke-width="1.1"/>
<circle cx="648.6" cy="434.3" r="2.5" fill="#ffffff" stroke="#7a7a7a" stroke-width="1.1"/>
<circle cx="644" cy="441.2" r="2.5" fill="#ffffff" stroke="#7a7a7a" stroke-width="1.1"/>
<circle cx="648.6" cy="445.3" r="2.5" fill="#ffffff" stroke="#7a7a7a" stroke-width="1.1"/>
<circle cx="653.2" cy="445.3" r="2.5" fill="#ffffff" stroke="#7a7a7a" stroke-width="1.1"/>
<circle cx="648.6" cy="458.8" r="2.5" fill="#ffffff" stroke="#7a7a7a" stroke-width="1.1"/>
<circle cx="653.2" cy="460.2" r="2.5" fill="#ffffff" stroke="#7a7a7a" stroke-width="1.1"/>
<circle cx="644" cy="462.8" r="2.5" fill="#ffffff" stroke="#7a7a7a" stroke-width="1.1"/>
<circle cx="670.3" cy="396.2" r="2.5" fill="#ffffff" stroke="#eaa6a3" stroke-width="1.1"/>
<circle cx="665.8" cy="417.2" r="2.5" fill="#ffffff" stroke="#eaa6a3" stroke-width="1.1"/>
<circle cx="670.3" cy="420.8" r="2.5" fill="#ffffff" stroke="#eaa6a3" stroke-width="1.1"/>
<circle cx="675.1" cy="420.8" r="2.5" fill="#ffffff" stroke="#eaa6a3" stroke-width="1.1"/>
<circle cx="667.9" cy="448.1" r="2.5" fill="#ffffff" stroke="#eaa6a3" stroke-width="1.1"/>
<circle cx="672.5" cy="448.1" r="2.5" fill="#ffffff" stroke="#eaa6a3" stroke-width="1.1"/>
<circle cx="670.3" cy="454.1" r="2.5" fill="#ffffff" stroke="#eaa6a3" stroke-width="1.1"/>
<text x="652.4" y="492.3" font-size="11.7" text-anchor="end" font-weight="normal" fill="#111111" stroke="#111111" stroke-width="0.18" transform="rotate(-45 652.4 492.3)">EYFP</text>
<text x="674.1" y="492.3" font-size="11.7" text-anchor="end" font-weight="normal" fill="#111111" stroke="#111111" stroke-width="0.18" transform="rotate(-45 674.1 492.3)">ChR2</text>
<line x1="648.2" y1="377.9" x2="672.7" y2="377.9" stroke="#333" stroke-width="1.1"/>
<text x="662.4" y="376" font-size="9.3" text-anchor="middle" fill="#111111" stroke="#111111" stroke-width="0.15"><tspan font-style="italic">P</tspan> = 0.0431</text>
<text x="594.4" y="424" font-size="11.7" text-anchor="middle" font-weight="normal" fill="#111111" stroke="#111111" stroke-width="0.18" transform="rotate(-90 594.4 424)">CPP Score (s)</text>
<rect x="0" y="524" width="25.2" height="164" fill="#f9c263"/>
<g transform="translate(18.4 606.5) rotate(-90)">
<text x="-44.94" y="0" font-size="11" font-weight="bold" fill="#000">mPFC</text>
<text x="-12.55" y="-4.1" font-size="7.5" font-weight="bold" fill="#000">Foxp2</text>
<line x1="12.74" y1="-3.6" x2="23.74" y2="-3.6" stroke="#000" stroke-width="0.9"/>
<path d="M22.24 -5.4 L25.24 -3.6 L22.24 -1.8" fill="none" stroke="#000" stroke-width="0.9"/>
<text x="28.44" y="0" font-size="11" font-weight="bold" fill="#000">VM</text>
</g>
<text x="34.3" y="529.8" font-size="13" text-anchor="start" font-weight="bold" fill="#000" stroke="#000" stroke-width="0.18">d</text>
<rect x="110.2" y="524.1" width="4.8" height="6.3" fill="#8a8a8a"/>
<text x="119.4" y="530.1" font-size="11" text-anchor="start" font-weight="normal" fill="#111111" stroke="#111111" stroke-width="0.18">EYFP</text>
<rect x="170.2" y="524.1" width="4.8" height="6.3" fill="#f9c263"/>
<text x="180.3" y="530.1" font-size="11" text-anchor="start" font-weight="normal" fill="#111111" stroke="#111111" stroke-width="0.18">ChR2</text>
<text x="76" y="542.7" font-size="11" text-anchor="start" font-weight="normal" fill="#111111" stroke="#111111" stroke-width="0.18">VFT</text>
<text x="244.7" y="543.2" font-size="11" text-anchor="start" font-weight="normal" fill="#111111" stroke="#111111" stroke-width="0.18">HPT</text>
<rect x="96.85" y="608.52" width="13.3" height="46.48" fill="#c1c1c1"/>
<line x1="103.5" y1="608.52" x2="103.5" y2="601.88" stroke="#c1c1c1" stroke-width="1.1"/>
<line x1="100.3" y1="601.88" x2="106.7" y2="601.88" stroke="#c1c1c1" stroke-width="1.1"/>
<rect x="116.85" y="606" width="13.3" height="49" fill="#c1c1c1"/>
<line x1="123.5" y1="606" x2="123.5" y2="596.04" stroke="#c1c1c1" stroke-width="1.1"/>
<line x1="120.3" y1="596.04" x2="126.7" y2="596.04" stroke="#c1c1c1" stroke-width="1.1"/>
<rect x="149.65" y="604.8" width="13.3" height="50.2" fill="#f9c263"/>
<line x1="156.3" y1="604.8" x2="156.3" y2="600.82" stroke="#f9c263" stroke-width="1.1"/>
<line x1="153.1" y1="600.82" x2="159.5" y2="600.82" stroke="#f9c263" stroke-width="1.1"/>
<rect x="169.65" y="607.52" width="13.3" height="47.48" fill="#f9c263"/>
<line x1="176.3" y1="607.52" x2="176.3" y2="600.55" stroke="#f9c263" stroke-width="1.1"/>
<line x1="173.1" y1="600.55" x2="179.5" y2="600.55" stroke="#f9c263" stroke-width="1.1"/>
<line x1="90.6" y1="554.9" x2="90.6" y2="655.5" stroke="#2b2b2b" stroke-width="1.1"/>
<line x1="83.6" y1="655" x2="90.6" y2="655" stroke="#2b2b2b" stroke-width="1.1"/>
<text x="82.3" y="659.1" font-size="11.5" text-anchor="end" font-weight="normal" fill="#111111" stroke="#111111" stroke-width="0.18">0.00</text>
<line x1="83.6" y1="621.8" x2="90.6" y2="621.8" stroke="#2b2b2b" stroke-width="1.1"/>
<text x="82.3" y="625.9" font-size="11.5" text-anchor="end" font-weight="normal" fill="#111111" stroke="#111111" stroke-width="0.18">0.05</text>
<line x1="83.6" y1="588.6" x2="90.6" y2="588.6" stroke="#2b2b2b" stroke-width="1.1"/>
<text x="82.3" y="592.7" font-size="11.5" text-anchor="end" font-weight="normal" fill="#111111" stroke="#111111" stroke-width="0.18">0.10</text>
<line x1="83.6" y1="555.4" x2="90.6" y2="555.4" stroke="#2b2b2b" stroke-width="1.1"/>
<text x="82.3" y="559.5" font-size="11.5" text-anchor="end" font-weight="normal" fill="#111111" stroke="#111111" stroke-width="0.18">0.15</text>
<line x1="83.6" y1="655" x2="190.1" y2="655" stroke="#2b2b2b" stroke-width="1.1"/>
<line x1="103.5" y1="655" x2="103.5" y2="661.8" stroke="#2b2b2b" stroke-width="1.1"/>
<line x1="123.5" y1="655" x2="123.5" y2="661.8" stroke="#2b2b2b" stroke-width="1.1"/>
<line x1="156.3" y1="655" x2="156.3" y2="661.8" stroke="#2b2b2b" stroke-width="1.1"/>
<line x1="176.3" y1="655" x2="176.3" y2="661.8" stroke="#2b2b2b" stroke-width="1.1"/>
<circle cx="99.2" cy="588.07" r="2.5" fill="#ffffff" stroke="#7a7a7a" stroke-width="1.1"/>
<circle cx="107.7" cy="588.07" r="2.5" fill="#ffffff" stroke="#7a7a7a" stroke-width="1.1"/>
<circle cx="103.5" cy="597.9" r="2.5" fill="#ffffff" stroke="#7a7a7a" stroke-width="1.1"/>
<circle cx="107.7" cy="606.33" r="2.5" fill="#ffffff" stroke="#7a7a7a" stroke-width="1.1"/>
<circle cx="99.2" cy="610.78" r="2.5" fill="#ffffff" stroke="#7a7a7a" stroke-width="1.1"/>
<circle cx="103.5" cy="631.76" r="2.5" fill="#ffffff" stroke="#7a7a7a" stroke-width="1.1"/>
<circle cx="103.5" cy="639.99" r="2.5" fill="#ffffff" stroke="#7a7a7a" stroke-width="1.1"/>
<circle cx="123.5" cy="564.03" r="2.5" fill="#ffffff" stroke="#7a7a7a" stroke-width="1.1"/>
<circle cx="123.5" cy="588.07" r="2.5" fill="#ffffff" stroke="#7a7a7a" stroke-width="1.1"/>
<circle cx="119.4" cy="597.9" r="2.5" fill="#ffffff" stroke="#7a7a7a" stroke-width="1.1"/>
<circle cx="127.8" cy="597.9" r="2.5" fill="#ffffff" stroke="#7a7a7a" stroke-width="1.1"/>
<circle cx="119.4" cy="627.78" r="2.5" fill="#ffffff" stroke="#7a7a7a" stroke-width="1.1"/>
<circle cx="127.8" cy="631.76" r="2.5" fill="#ffffff" stroke="#7a7a7a" stroke-width="1.1"/>
<circle cx="119.4" cy="635.21" r="2.5" fill="#ffffff" stroke="#7a7a7a" stroke-width="1.1"/>
<circle cx="154.4" cy="587.94" r="2.5" fill="#ffffff" stroke="#f7b94d" stroke-width="1.1"/>
<circle cx="158.3" cy="587.94" r="2.5" fill="#ffffff" stroke="#f7b94d" stroke-width="1.1"/>
<circle cx="152" cy="597.63" r="2.5" fill="#ffffff" stroke="#f7b94d" stroke-width="1.1"/>
<circle cx="156.3" cy="597.63" r="2.5" fill="#ffffff" stroke="#f7b94d" stroke-width="1.1"/>
<circle cx="160.4" cy="597.63" r="2.5" fill="#ffffff" stroke="#f7b94d" stroke-width="1.1"/>
<circle cx="154.1" cy="631.76" r="2.5" fill="#ffffff" stroke="#f7b94d" stroke-width="1.1"/>
<circle cx="158.3" cy="631.76" r="2.5" fill="#ffffff" stroke="#f7b94d" stroke-width="1.1"/>
<circle cx="172.3" cy="587.94" r="2.5" fill="#ffffff" stroke="#f7b94d" stroke-width="1.1"/>
<circle cx="180.7" cy="587.94" r="2.5" fill="#ffffff" stroke="#f7b94d" stroke-width="1.1"/>
<circle cx="172.3" cy="597.23" r="2.5" fill="#ffffff" stroke="#f7b94d" stroke-width="1.1"/>
<circle cx="180.7" cy="597.63" r="2.5" fill="#ffffff" stroke="#f7b94d" stroke-width="1.1"/>
<circle cx="176.3" cy="617.88" r="2.5" fill="#ffffff" stroke="#f7b94d" stroke-width="1.1"/>
<circle cx="172.3" cy="631.76" r="2.5" fill="#ffffff" stroke="#f7b94d" stroke-width="1.1"/>
<circle cx="180.7" cy="631.76" r="2.5" fill="#ffffff" stroke="#f7b94d" stroke-width="1.1"/>
<text x="103.5" y="673.9" font-size="11.6" text-anchor="middle" font-weight="normal" fill="#111111" stroke="#111111" stroke-width="0.18">Off</text>
<text x="123.5" y="673.9" font-size="11.6" text-anchor="middle" font-weight="normal" fill="#111111" stroke="#111111" stroke-width="0.18">On</text>
<text x="156.3" y="673.9" font-size="11.6" text-anchor="middle" font-weight="normal" fill="#111111" stroke="#111111" stroke-width="0.18">Off</text>
<text x="176.3" y="673.9" font-size="11.6" text-anchor="middle" font-weight="normal" fill="#111111" stroke="#111111" stroke-width="0.18">On</text>
<line x1="124.3" y1="543.3" x2="178" y2="543.3" stroke="#333" stroke-width="1.1"/>
<text x="151.15" y="541.2" font-size="10.5" text-anchor="middle" font-weight="normal" fill="#111111" stroke="#111111" stroke-width="0.18">ns</text>
<line x1="154.1" y1="556.8" x2="178" y2="556.8" stroke="#555" stroke-width="1.1"/>
<text x="166.05" y="554.7" font-size="10.5" text-anchor="middle" font-weight="normal" fill="#111111" stroke="#111111" stroke-width="0.18">ns</text>
<text x="53.4" y="605.5" font-size="11.7" text-anchor="middle" font-weight="normal" fill="#111111" stroke="#111111" stroke-width="0.18" transform="rotate(-90 53.4 605.5)">Paw withdrawal threshold (g)</text>
<rect x="262.65" y="582.23" width="13.3" height="72.97" fill="#c1c1c1"/>
<line x1="269.3" y1="582.23" x2="269.3" y2="578.59" stroke="#c1c1c1" stroke-width="1.1"/>
<line x1="266.1" y1="578.59" x2="272.5" y2="578.59" stroke="#c1c1c1" stroke-width="1.1"/>
<rect x="282.65" y="584.89" width="13.3" height="70.31" fill="#c1c1c1"/>
<line x1="289.3" y1="584.89" x2="289.3" y2="580.91" stroke="#c1c1c1" stroke-width="1.1"/>
<line x1="286.1" y1="580.91" x2="292.5" y2="580.91" stroke="#c1c1c1" stroke-width="1.1"/>
<rect x="315.45" y="581.57" width="13.3" height="73.63" fill="#f9c263"/>
<line x1="322.1" y1="581.57" x2="322.1" y2="578.25" stroke="#f9c263" stroke-width="1.1"/>
<line x1="318.9" y1="578.25" x2="325.3" y2="578.25" stroke="#f9c263" stroke-width="1.1"/>
<rect x="335.45" y="582.9" width="13.3" height="72.3" fill="#f9c263"/>
<line x1="342.1" y1="582.9" x2="342.1" y2="578.92" stroke="#f9c263" stroke-width="1.1"/>
<line x1="338.9" y1="578.92" x2="345.3" y2="578.92" stroke="#f9c263" stroke-width="1.1"/>
<line x1="256.4" y1="555.2" x2="256.4" y2="655.7" stroke="#2b2b2b" stroke-width="1.1"/>
<line x1="249.4" y1="655.2" x2="256.4" y2="655.2" stroke="#2b2b2b" stroke-width="1.1"/>
<text x="248.1" y="659.3" font-size="11.5" text-anchor="end" font-weight="normal" fill="#111111" stroke="#111111" stroke-width="0.18">0</text>
<line x1="249.4" y1="622.03" x2="256.4" y2="622.03" stroke="#2b2b2b" stroke-width="1.1"/>
<text x="248.1" y="626.13" font-size="11.5" text-anchor="end" font-weight="normal" fill="#111111" stroke="#111111" stroke-width="0.18">5</text>
<line x1="249.4" y1="588.87" x2="256.4" y2="588.87" stroke="#2b2b2b" stroke-width="1.1"/>
<text x="248.1" y="592.97" font-size="11.5" text-anchor="end" font-weight="normal" fill="#111111" stroke="#111111" stroke-width="0.18">10</text>
<line x1="249.4" y1="555.7" x2="256.4" y2="555.7" stroke="#2b2b2b" stroke-width="1.1"/>
<text x="248.1" y="559.8" font-size="11.5" text-anchor="end" font-weight="normal" fill="#111111" stroke="#111111" stroke-width="0.18">15</text>
<line x1="249.4" y1="655.2" x2="355.9" y2="655.2" stroke="#2b2b2b" stroke-width="1.1"/>
<line x1="269.3" y1="655.2" x2="269.3" y2="662" stroke="#2b2b2b" stroke-width="1.1"/>
<line x1="289.3" y1="655.2" x2="289.3" y2="662" stroke="#2b2b2b" stroke-width="1.1"/>
<line x1="322.1" y1="655.2" x2="322.1" y2="662" stroke="#2b2b2b" stroke-width="1.1"/>
<line x1="342.1" y1="655.2" x2="342.1" y2="662" stroke="#2b2b2b" stroke-width="1.1"/>
<circle cx="273.6" cy="571.62" r="2.5" fill="#ffffff" stroke="#7a7a7a" stroke-width="1.1"/>
<circle cx="269.3" cy="574.61" r="2.5" fill="#ffffff" stroke="#7a7a7a" stroke-width="1.1"/>
<circle cx="265.1" cy="579.58" r="2.5" fill="#ffffff" stroke="#7a7a7a" stroke-width="1.1"/>
<circle cx="269.3" cy="579.58" r="2.5" fill="#ffffff" stroke="#7a7a7a" stroke-width="1.1"/>
<circle cx="273.6" cy="581.57" r="2.5" fill="#ffffff" stroke="#7a7a7a" stroke-width="1.1"/>
<circle cx="269.3" cy="586.21" r="2.5" fill="#ffffff" stroke="#7a7a7a" stroke-width="1.1"/>
<circle cx="269.3" cy="603.13" r="2.5" fill="#ffffff" stroke="#7a7a7a" stroke-width="1.1"/>
<circle cx="287.3" cy="570.29" r="2.5" fill="#ffffff" stroke="#7a7a7a" stroke-width="1.1"/>
<circle cx="292" cy="573.61" r="2.5" fill="#ffffff" stroke="#7a7a7a" stroke-width="1.1"/>
<circle cx="289.3" cy="579.58" r="2.5" fill="#ffffff" stroke="#7a7a7a" stroke-width="1.1"/>
<circle cx="289.3" cy="584.89" r="2.5" fill="#ffffff" stroke="#7a7a7a" stroke-width="1.1"/>
<circle cx="285.2" cy="596.16" r="2.5" fill="#ffffff" stroke="#7a7a7a" stroke-width="1.1"/>
<circle cx="289.3" cy="594.17" r="2.5" fill="#ffffff" stroke="#7a7a7a" stroke-width="1.1"/>
<circle cx="293.6" cy="594.17" r="2.5" fill="#ffffff" stroke="#7a7a7a" stroke-width="1.1"/>
<circle cx="317.8" cy="570.29" r="2.5" fill="#ffffff" stroke="#f7b94d" stroke-width="1.1"/>
<circle cx="326.4" cy="573.61" r="2.5" fill="#ffffff" stroke="#f7b94d" stroke-width="1.1"/>
<circle cx="317.8" cy="578.59" r="2.5" fill="#ffffff" stroke="#f7b94d" stroke-width="1.1"/>
<circle cx="322.1" cy="580.24" r="2.5" fill="#ffffff" stroke="#f7b94d" stroke-width="1.1"/>
<circle cx="317.8" cy="586.21" r="2.5" fill="#ffffff" stroke="#f7b94d" stroke-width="1.1"/>
<circle cx="326.4" cy="587.87" r="2.5" fill="#ffffff" stroke="#f7b94d" stroke-width="1.1"/>
<circle cx="322.1" cy="595.7" r="2.5" fill="#ffffff" stroke="#f7b94d" stroke-width="1.1"/>
<circle cx="337.8" cy="567.64" r="2.5" fill="#ffffff" stroke="#f7b94d" stroke-width="1.1"/>
<circle cx="346.1" cy="570.62" r="2.5" fill="#ffffff" stroke="#f7b94d" stroke-width="1.1"/>
<circle cx="342.1" cy="578.59" r="2.5" fill="#ffffff" stroke="#f7b94d" stroke-width="1.1"/>
<circle cx="342.1" cy="583.56" r="2.5" fill="#ffffff" stroke="#f7b94d" stroke-width="1.1"/>
<circle cx="337.8" cy="588.87" r="2.5" fill="#ffffff" stroke="#f7b94d" stroke-width="1.1"/>
<circle cx="346.1" cy="592.18" r="2.5" fill="#ffffff" stroke="#f7b94d" stroke-width="1.1"/>
<circle cx="342.1" cy="599.15" r="2.5" fill="#ffffff" stroke="#f7b94d" stroke-width="1.1"/>
<text x="269.3" y="674.1" font-size="11.6" text-anchor="middle" font-weight="normal" fill="#111111" stroke="#111111" stroke-width="0.18">Off</text>
<text x="289.3" y="674.1" font-size="11.6" text-anchor="middle" font-weight="normal" fill="#111111" stroke="#111111" stroke-width="0.18">On</text>
<text x="322.1" y="674.1" font-size="11.6" text-anchor="middle" font-weight="normal" fill="#111111" stroke="#111111" stroke-width="0.18">Off</text>
<text x="342.1" y="674.1" font-size="11.6" text-anchor="middle" font-weight="normal" fill="#111111" stroke="#111111" stroke-width="0.18">On</text>
<line x1="290.4" y1="543.6" x2="344" y2="543.6" stroke="#333" stroke-width="1.1"/>
<text x="317.2" y="541.3" font-size="10.5" text-anchor="middle" font-weight="normal" fill="#111111" stroke="#111111" stroke-width="0.18">ns</text>
<line x1="319.6" y1="557.4" x2="344" y2="557.4" stroke="#555" stroke-width="1.1"/>
<text x="331.8" y="555.2" font-size="10.5" text-anchor="middle" font-weight="normal" fill="#111111" stroke="#111111" stroke-width="0.18">ns</text>
<text x="229.2" y="605" font-size="11.7" text-anchor="middle" font-weight="normal" fill="#111111" stroke="#111111" stroke-width="0.18" transform="rotate(-90 229.2 605)">Paw withdrawal latency (s)</text>
<text x="401.6" y="531.1" font-size="13" text-anchor="start" font-weight="bold" fill="#000" stroke="#000" stroke-width="0.18">g</text>
<text x="462.2" y="543.1" font-size="11" text-anchor="middle" font-weight="normal" fill="#111111" stroke="#111111" stroke-width="0.18">CPP</text>
<rect x="476.95" y="611.93" width="13.3" height="43.07" fill="#c1c1c1"/>
<line x1="483.6" y1="611.93" x2="483.6" y2="605.85" stroke="#c1c1c1" stroke-width="1.1"/>
<line x1="480.4" y1="605.85" x2="486.8" y2="605.85" stroke="#c1c1c1" stroke-width="1.1"/>
<rect x="496.95" y="605.45" width="13.3" height="49.55" fill="#c1c1c1"/>
<line x1="503.6" y1="605.45" x2="503.6" y2="602.36" stroke="#c1c1c1" stroke-width="1.1"/>
<line x1="500.4" y1="602.36" x2="506.8" y2="602.36" stroke="#c1c1c1" stroke-width="1.1"/>
<rect x="529.75" y="608.54" width="13.3" height="46.46" fill="#f9c263"/>
<line x1="536.4" y1="608.54" x2="536.4" y2="600.26" stroke="#f9c263" stroke-width="1.1"/>
<line x1="533.2" y1="600.26" x2="539.6" y2="600.26" stroke="#f9c263" stroke-width="1.1"/>
<rect x="549.75" y="607.04" width="13.3" height="47.96" fill="#f9c263"/>
<line x1="556.4" y1="607.04" x2="556.4" y2="598.67" stroke="#f9c263" stroke-width="1.1"/>
<line x1="553.2" y1="598.67" x2="559.6" y2="598.67" stroke="#f9c263" stroke-width="1.1"/>
<line x1="470.7" y1="554.8" x2="470.7" y2="655.5" stroke="#2b2b2b" stroke-width="1.1"/>
<line x1="463.7" y1="655" x2="470.7" y2="655" stroke="#2b2b2b" stroke-width="1.1"/>
<text x="462.4" y="659.1" font-size="11.5" text-anchor="end" font-weight="normal" fill="#111111" stroke="#111111" stroke-width="0.18">0</text>
<line x1="463.7" y1="635.06" x2="470.7" y2="635.06" stroke="#2b2b2b" stroke-width="1.1"/>
<text x="462.4" y="639.16" font-size="11.5" text-anchor="end" font-weight="normal" fill="#111111" stroke="#111111" stroke-width="0.18">200</text>
<line x1="463.7" y1="615.12" x2="470.7" y2="615.12" stroke="#2b2b2b" stroke-width="1.1"/>
<text x="462.4" y="619.22" font-size="11.5" text-anchor="end" font-weight="normal" fill="#111111" stroke="#111111" stroke-width="0.18">400</text>
<line x1="463.7" y1="595.18" x2="470.7" y2="595.18" stroke="#2b2b2b" stroke-width="1.1"/>
<text x="462.4" y="599.28" font-size="11.5" text-anchor="end" font-weight="normal" fill="#111111" stroke="#111111" stroke-width="0.18">600</text>
<line x1="463.7" y1="575.24" x2="470.7" y2="575.24" stroke="#2b2b2b" stroke-width="1.1"/>
<text x="462.4" y="579.34" font-size="11.5" text-anchor="end" font-weight="normal" fill="#111111" stroke="#111111" stroke-width="0.18">800</text>
<line x1="463.7" y1="555.3" x2="470.7" y2="555.3" stroke="#2b2b2b" stroke-width="1.1"/>
<text x="462.4" y="559.4" font-size="11.5" text-anchor="end" font-weight="normal" fill="#111111" stroke="#111111" stroke-width="0.18">1000</text>
<line x1="463.7" y1="655" x2="570.2" y2="655" stroke="#2b2b2b" stroke-width="1.1"/>
<line x1="483.6" y1="655" x2="483.6" y2="661.8" stroke="#2b2b2b" stroke-width="1.1"/>
<line x1="503.6" y1="655" x2="503.6" y2="661.8" stroke="#2b2b2b" stroke-width="1.1"/>
<line x1="536.4" y1="655" x2="536.4" y2="661.8" stroke="#2b2b2b" stroke-width="1.1"/>
<line x1="556.4" y1="655" x2="556.4" y2="661.8" stroke="#2b2b2b" stroke-width="1.1"/>
<circle cx="483.6" cy="591.69" r="2.5" fill="#ffffff" stroke="#7a7a7a" stroke-width="1.1"/>
<circle cx="488.2" cy="600.26" r="2.5" fill="#ffffff" stroke="#7a7a7a" stroke-width="1.1"/>
<circle cx="483.6" cy="603.95" r="2.5" fill="#ffffff" stroke="#7a7a7a" stroke-width="1.1"/>
<circle cx="479.5" cy="615.22" r="2.5" fill="#ffffff" stroke="#7a7a7a" stroke-width="1.1"/>
<circle cx="487.6" cy="616.62" r="2.5" fill="#ffffff" stroke="#7a7a7a" stroke-width="1.1"/>
<circle cx="483.6" cy="618.71" r="2.5" fill="#ffffff" stroke="#7a7a7a" stroke-width="1.1"/>
<circle cx="483.6" cy="637.65" r="2.5" fill="#ffffff" stroke="#7a7a7a" stroke-width="1.1"/>
<circle cx="503.6" cy="576.24" r="2.5" fill="#ffffff" stroke="#7a7a7a" stroke-width="1.1"/>
<circle cx="503.6" cy="597.77" r="2.5" fill="#ffffff" stroke="#7a7a7a" stroke-width="1.1"/>
<circle cx="499.6" cy="605.05" r="2.5" fill="#ffffff" stroke="#7a7a7a" stroke-width="1.1"/>
<circle cx="508.2" cy="608.04" r="2.5" fill="#ffffff" stroke="#7a7a7a" stroke-width="1.1"/>
<circle cx="499.6" cy="611.13" r="2.5" fill="#ffffff" stroke="#7a7a7a" stroke-width="1.1"/>
<circle cx="499.6" cy="619.31" r="2.5" fill="#ffffff" stroke="#7a7a7a" stroke-width="1.1"/>
<circle cx="508.2" cy="619.31" r="2.5" fill="#ffffff" stroke="#7a7a7a" stroke-width="1.1"/>
<circle cx="532.5" cy="584.61" r="2.5" fill="#ffffff" stroke="#f7b94d" stroke-width="1.1"/>
<circle cx="540.5" cy="586.61" r="2.5" fill="#ffffff" stroke="#f7b94d" stroke-width="1.1"/>
<circle cx="536.4" cy="597.57" r="2.5" fill="#ffffff" stroke="#f7b94d" stroke-width="1.1"/>
<circle cx="536.4" cy="605.05" r="2.5" fill="#ffffff" stroke="#f7b94d" stroke-width="1.1"/>
<circle cx="532.5" cy="623.4" r="2.5" fill="#ffffff" stroke="#f7b94d" stroke-width="1.1"/>
<circle cx="540.5" cy="628.28" r="2.5" fill="#ffffff" stroke="#f7b94d" stroke-width="1.1"/>
<circle cx="536.4" cy="634.36" r="2.5" fill="#ffffff" stroke="#f7b94d" stroke-width="1.1"/>
<circle cx="552.5" cy="578.83" r="2.5" fill="#ffffff" stroke="#f7b94d" stroke-width="1.1"/>
<circle cx="560.8" cy="581.92" r="2.5" fill="#ffffff" stroke="#f7b94d" stroke-width="1.1"/>
<circle cx="552.5" cy="587" r="2.5" fill="#ffffff" stroke="#f7b94d" stroke-width="1.1"/>
<circle cx="556.4" cy="619.71" r="2.5" fill="#ffffff" stroke="#f7b94d" stroke-width="1.1"/>
<circle cx="552.5" cy="625.39" r="2.5" fill="#ffffff" stroke="#f7b94d" stroke-width="1.1"/>
<circle cx="560.8" cy="625.39" r="2.5" fill="#ffffff" stroke="#f7b94d" stroke-width="1.1"/>
<circle cx="556.4" cy="633.37" r="2.5" fill="#ffffff" stroke="#f7b94d" stroke-width="1.1"/>
<text x="487.4" y="672.8" font-size="11.7" text-anchor="end" font-weight="normal" fill="#111111" stroke="#111111" stroke-width="0.18" transform="rotate(-45 487.4 672.8)">Pre</text>
<text x="507.4" y="672.8" font-size="11.7" text-anchor="end" font-weight="normal" fill="#111111" stroke="#111111" stroke-width="0.18" transform="rotate(-45 507.4 672.8)">Post</text>
<text x="540.2" y="672.8" font-size="11.7" text-anchor="end" font-weight="normal" fill="#111111" stroke="#111111" stroke-width="0.18" transform="rotate(-45 540.2 672.8)">Pre</text>
<text x="560.2" y="672.8" font-size="11.7" text-anchor="end" font-weight="normal" fill="#111111" stroke="#111111" stroke-width="0.18" transform="rotate(-45 560.2 672.8)">Post</text>
<line x1="481.7" y1="559.4" x2="506.6" y2="559.4" stroke="#555" stroke-width="1.1"/>
<text x="495.6" y="557" font-size="10.5" text-anchor="middle" font-weight="normal" fill="#111111" stroke="#111111" stroke-width="0.18">ns</text>
<line x1="534.2" y1="559.4" x2="558.4" y2="559.4" stroke="#555" stroke-width="1.1"/>
<text x="547.8" y="557" font-size="10.5" text-anchor="middle" font-weight="normal" fill="#111111" stroke="#111111" stroke-width="0.18">ns</text>
<text x="428.8" y="605" font-size="11.7" text-anchor="middle" font-weight="normal" fill="#111111" stroke="#111111" stroke-width="0.18" transform="rotate(-90 428.8 605)">Time in chamber (s)</text>
<rect x="641.75" y="599.56" width="13.7" height="5.39" fill="#c1c1c1"/>
<line x1="648.6" y1="599.56" x2="648.6" y2="597.07" stroke="#c1c1c1" stroke-width="1.1"/>
<line x1="645.4" y1="597.07" x2="651.8" y2="597.07" stroke="#c1c1c1" stroke-width="1.1"/>
<rect x="663.45" y="603.87" width="13.7" height="1.08" fill="#f9c263"/>
<line x1="670.3" y1="603.87" x2="670.3" y2="593.51" stroke="#f9c263" stroke-width="1.1"/>
<line x1="667.1" y1="593.51" x2="673.5" y2="593.51" stroke="#f9c263" stroke-width="1.1"/>
<line x1="670.3" y1="603.87" x2="670.3" y2="614.24" stroke="#f9c263" stroke-width="1.1"/>
<line x1="667.1" y1="614.24" x2="673.5" y2="614.24" stroke="#f9c263" stroke-width="1.1"/>
<line x1="634.5" y1="554.7" x2="634.5" y2="655.2" stroke="#2b2b2b" stroke-width="1.1"/>
<line x1="627.5" y1="654.7" x2="634.5" y2="654.7" stroke="#2b2b2b" stroke-width="1.1"/>
<text x="626.2" y="658.8" font-size="11.5" text-anchor="end" font-weight="normal" fill="#111111" stroke="#111111" stroke-width="0.18">-600</text>
<line x1="627.5" y1="638.12" x2="634.5" y2="638.12" stroke="#2b2b2b" stroke-width="1.1"/>
<text x="626.2" y="642.22" font-size="11.5" text-anchor="end" font-weight="normal" fill="#111111" stroke="#111111" stroke-width="0.18">-400</text>
<line x1="627.5" y1="621.53" x2="634.5" y2="621.53" stroke="#2b2b2b" stroke-width="1.1"/>
<text x="626.2" y="625.63" font-size="11.5" text-anchor="end" font-weight="normal" fill="#111111" stroke="#111111" stroke-width="0.18">-200</text>
<line x1="627.5" y1="604.95" x2="634.5" y2="604.95" stroke="#2b2b2b" stroke-width="1.1"/>
<text x="626.2" y="609.05" font-size="11.5" text-anchor="end" font-weight="normal" fill="#111111" stroke="#111111" stroke-width="0.18">0</text>
<line x1="627.5" y1="588.37" x2="634.5" y2="588.37" stroke="#2b2b2b" stroke-width="1.1"/>
<text x="626.2" y="592.47" font-size="11.5" text-anchor="end" font-weight="normal" fill="#111111" stroke="#111111" stroke-width="0.18">200</text>
<line x1="627.5" y1="571.78" x2="634.5" y2="571.78" stroke="#2b2b2b" stroke-width="1.1"/>
<text x="626.2" y="575.88" font-size="11.5" text-anchor="end" font-weight="normal" fill="#111111" stroke="#111111" stroke-width="0.18">400</text>
<line x1="627.5" y1="555.2" x2="634.5" y2="555.2" stroke="#2b2b2b" stroke-width="1.1"/>
<text x="626.2" y="559.3" font-size="11.5" text-anchor="end" font-weight="normal" fill="#111111" stroke="#111111" stroke-width="0.18">600</text>
<line x1="627.5" y1="654.7" x2="685" y2="654.7" stroke="#2b2b2b" stroke-width="1.1"/>
<line x1="634.5" y1="604.95" x2="685" y2="604.95" stroke="#2b2b2b" stroke-width="1.1"/>
<line x1="648.6" y1="654.7" x2="648.6" y2="661.5" stroke="#2b2b2b" stroke-width="1.1"/>
<line x1="670.3" y1="654.7" x2="670.3" y2="661.5" stroke="#2b2b2b" stroke-width="1.1"/>
<circle cx="648.6" cy="582.73" r="2.5" fill="#ffffff" stroke="#7a7a7a" stroke-width="1.1"/>
<circle cx="644" cy="589.03" r="2.5" fill="#ffffff" stroke="#7a7a7a" stroke-width="1.1"/>
<circle cx="648.6" cy="592.02" r="2.5" fill="#ffffff" stroke="#7a7a7a" stroke-width="1.1"/>
<circle cx="644" cy="596.16" r="2.5" fill="#ffffff" stroke="#7a7a7a" stroke-width="1.1"/>
<circle cx="653.2" cy="596.58" r="2.5" fill="#ffffff" stroke="#7a7a7a" stroke-width="1.1"/>
<circle cx="651.2" cy="617.72" r="2.5" fill="#ffffff" stroke="#7a7a7a" stroke-width="1.1"/>
<circle cx="646.2" cy="620.79" r="2.5" fill="#ffffff" stroke="#7a7a7a" stroke-width="1.1"/>
<circle cx="670.3" cy="559.18" r="2.5" fill="#ffffff" stroke="#f7b94d" stroke-width="1.1"/>
<circle cx="670.3" cy="590.03" r="2.5" fill="#ffffff" stroke="#f7b94d" stroke-width="1.1"/>
<circle cx="665.9" cy="602.13" r="2.5" fill="#ffffff" stroke="#f7b94d" stroke-width="1.1"/>
<circle cx="670.3" cy="602.13" r="2.5" fill="#ffffff" stroke="#f7b94d" stroke-width="1.1"/>
<circle cx="675.1" cy="602.13" r="2.5" fill="#ffffff" stroke="#f7b94d" stroke-width="1.1"/>
<circle cx="667.9" cy="637.95" r="2.5" fill="#ffffff" stroke="#f7b94d" stroke-width="1.1"/>
<circle cx="672.3" cy="634.97" r="2.5" fill="#ffffff" stroke="#f7b94d" stroke-width="1.1"/>
<text x="652.4" y="672.5" font-size="11.7" text-anchor="end" font-weight="normal" fill="#111111" stroke="#111111" stroke-width="0.18" transform="rotate(-45 652.4 672.5)">EYFP</text>
<text x="674.1" y="672.5" font-size="11.7" text-anchor="end" font-weight="normal" fill="#111111" stroke="#111111" stroke-width="0.18" transform="rotate(-45 674.1 672.5)">ChR2</text>
<line x1="648.2" y1="552.7" x2="672.1" y2="552.7" stroke="#333" stroke-width="1.1"/>
<text x="660.15" y="550.2" font-size="10.5" text-anchor="middle" font-weight="normal" fill="#111111" stroke="#111111" stroke-width="0.18">ns</text>
<text x="594.4" y="605" font-size="11.7" text-anchor="middle" font-weight="normal" fill="#111111" stroke="#111111" stroke-width="0.18" transform="rotate(-90 594.4 605)">CPP Score (s)</text>
</svg></body></html>
